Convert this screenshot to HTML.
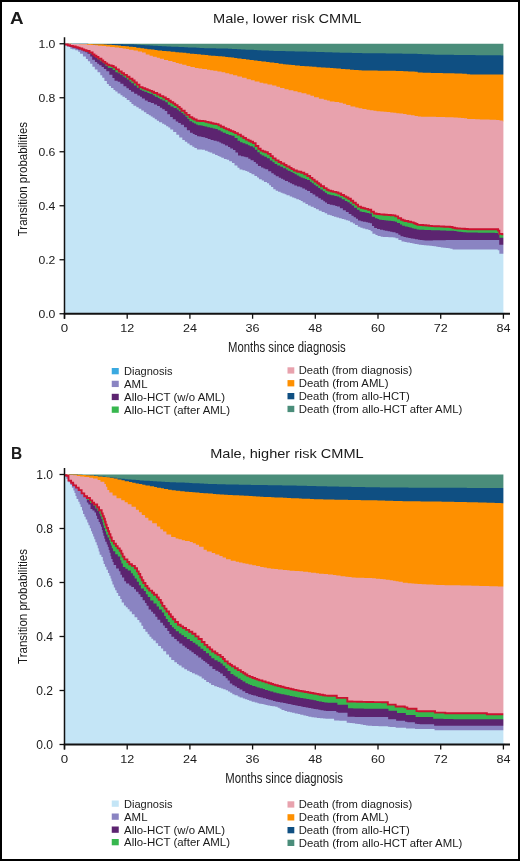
<!DOCTYPE html>
<html><head><meta charset="utf-8"><style>
html,body{margin:0;padding:0;background:#fff;}
body{width:520px;height:861px;overflow:hidden;}
svg{display:block;will-change:transform;}
text{font-family:"Liberation Sans",sans-serif;fill:#1a1a1a;}
</style></head><body>
<svg width="520" height="861" viewBox="0 0 520 861">
<rect x="1" y="1" width="518" height="859" fill="#fff" stroke="#000" stroke-width="2"/>
<text x="10.00" y="23.80" style="font-size:17.20px;font-weight:bold;" textLength="13.60" lengthAdjust="spacingAndGlyphs">A</text>
<text x="213.00" y="23.20" style="font-size:13.00px;" textLength="148.50" lengthAdjust="spacingAndGlyphs">Male, lower risk CMML</text>
<rect x="64.50" y="43.75" width="440.40" height="270.00" fill="#4a8d7a"/>
<path d="M64.50,313.75 L64.50,43.75 L64.50,43.75 L67.58,43.75 L67.58,43.78 L71.35,43.78 L71.35,43.80 L75.84,43.80 L75.84,43.82 L80.17,43.82 L80.17,43.85 L84.57,43.85 L84.57,43.87 L88.30,43.87 L88.30,43.89 L92.85,43.89 L92.85,43.92 L96.79,43.92 L96.79,43.94 L99.72,43.94 L99.72,43.95 L103.50,43.95 L103.50,43.97 L106.36,43.97 L106.36,43.99 L111.21,43.99 L111.21,44.03 L116.09,44.03 L116.09,44.07 L119.59,44.07 L119.59,44.10 L123.04,44.10 L123.04,44.13 L127.52,44.13 L127.52,44.17 L130.73,44.17 L130.73,44.19 L133.88,44.19 L133.88,44.39 L137.05,44.39 L137.05,44.64 L140.58,44.64 L140.58,44.94 L144.74,44.94 L144.74,45.29 L149.66,45.29 L149.66,45.56 L152.88,45.56 L152.88,45.77 L157.78,45.77 L157.78,45.99 L161.78,45.99 L161.78,46.21 L166.56,46.21 L166.56,46.44 L171.15,46.44 L171.15,46.64 L174.26,46.64 L174.26,46.82 L178.47,46.82 L178.47,47.00 L181.50,47.00 L181.50,47.12 L184.26,47.12 L184.26,47.26 L187.90,47.26 L187.90,47.44 L192.39,47.44 L192.39,47.62 L196.42,47.62 L196.42,47.78 L199.60,47.78 L199.60,47.95 L204.24,47.95 L204.24,48.15 L209.05,48.15 L209.05,48.31 L212.33,48.31 L212.33,48.35 L216.09,48.35 L216.09,48.40 L220.28,48.40 L220.28,48.46 L225.06,48.46 L225.06,48.53 L228.09,48.53 L228.09,48.71 L232.09,48.71 L232.09,48.95 L237.02,48.95 L237.02,49.18 L241.14,49.18 L241.14,49.40 L245.50,49.40 L245.50,49.63 L250.00,49.63 L250.00,49.84 L253.89,49.84 L253.89,50.02 L257.29,50.02 L257.29,50.19 L261.37,50.19 L261.37,50.39 L265.31,50.39 L265.31,50.56 L268.83,50.56 L268.83,50.76 L273.50,50.76 L273.50,50.88 L277.07,50.88 L277.07,50.97 L280.91,50.97 L280.91,51.08 L285.37,51.08 L285.37,51.19 L289.95,51.19 L289.95,51.31 L294.70,51.31 L294.70,51.42 L298.92,51.42 L298.92,51.52 L302.24,51.52 L302.24,51.62 L306.89,51.62 L306.89,51.74 L311.69,51.74 L311.69,51.86 L316.05,51.86 L316.05,51.98 L320.52,51.98 L320.52,52.11 L324.43,52.11 L324.43,52.22 L328.29,52.22 L328.29,52.34 L332.35,52.34 L332.35,52.45 L335.43,52.45 L335.43,52.57 L339.70,52.57 L339.70,52.70 L344.39,52.70 L344.39,52.79 L347.51,52.79 L347.51,52.87 L351.96,52.87 L351.96,52.96 L356.30,52.96 L356.30,53.04 L359.32,53.04 L359.32,53.11 L362.18,53.11 L362.18,53.18 L366.27,53.18 L366.27,53.23 L369.52,53.23 L369.52,53.25 L372.96,53.25 L372.96,53.29 L377.11,53.29 L377.11,53.32 L381.33,53.32 L381.33,53.36 L385.76,53.36 L385.76,53.40 L389.79,53.40 L389.79,53.45 L393.29,53.45 L393.29,53.50 L396.07,53.50 L396.07,53.54 L399.07,53.54 L399.07,53.58 L402.26,53.58 L402.26,53.63 L406.19,53.63 L406.19,53.69 L410.56,53.69 L410.56,53.75 L413.78,53.75 L413.78,53.79 L417.41,53.79 L417.41,53.97 L422.26,53.97 L422.26,54.16 L425.92,54.16 L425.92,54.34 L430.27,54.34 L430.27,54.53 L434.41,54.53 L434.41,54.63 L438.65,54.63 L438.65,54.69 L442.47,54.69 L442.47,54.74 L446.45,54.74 L446.45,54.79 L450.77,54.79 L450.77,54.84 L453.89,54.84 L453.89,54.90 L458.43,54.90 L458.43,54.96 L463.15,54.96 L463.15,55.01 L466.00,55.01 L466.00,55.04 L469.20,55.04 L469.20,55.07 L472.51,55.07 L472.51,55.10 L475.47,55.10 L475.47,55.13 L478.54,55.13 L478.54,55.17 L482.73,55.17 L482.73,55.21 L485.76,55.21 L485.76,55.24 L488.66,55.24 L488.66,55.28 L493.53,55.28 L493.53,55.32 L497.19,55.32 L497.19,55.36 L501.15,55.36 L501.15,55.39 L503.40,55.39 L504.90,55.39 L504.90,313.75 Z" fill="#0f4f82"/>
<path d="M64.50,313.75 L64.50,43.75 L64.50,43.75 L68.56,43.75 L68.56,43.82 L71.75,43.82 L71.75,43.88 L76.67,43.88 L76.67,43.94 L81.50,43.94 L81.50,44.00 L85.30,44.00 L85.30,44.05 L89.54,44.05 L89.54,44.10 L92.77,44.10 L92.77,44.14 L96.02,44.14 L96.02,44.19 L99.42,44.19 L99.42,44.37 L103.73,44.37 L103.73,44.59 L106.96,44.59 L106.96,44.82 L111.89,44.82 L111.89,45.05 L114.80,45.05 L114.80,45.24 L117.99,45.24 L117.99,45.54 L120.94,45.54 L120.94,45.91 L125.42,45.91 L125.42,46.31 L128.99,46.31 L128.99,46.67 L132.80,46.67 L132.80,47.09 L136.29,47.09 L136.29,47.64 L140.47,47.64 L140.47,48.20 L144.13,48.20 L144.13,48.69 L147.35,48.69 L147.35,49.19 L151.07,49.19 L151.07,49.62 L154.50,49.62 L154.50,49.98 L157.50,49.98 L157.50,50.41 L162.10,50.41 L162.10,50.91 L166.38,50.91 L166.38,51.33 L170.63,51.33 L170.63,51.75 L175.36,51.75 L175.36,52.14 L179.00,52.14 L179.00,52.48 L182.61,52.48 L182.61,52.87 L186.31,52.87 L186.31,53.25 L189.97,53.25 L189.97,53.66 L194.22,53.66 L194.22,54.03 L196.99,54.03 L196.99,54.37 L200.78,54.37 L200.78,54.77 L204.74,54.77 L204.74,55.10 L208.26,55.10 L208.26,55.38 L211.06,55.38 L211.06,55.69 L215.40,55.69 L215.40,56.00 L218.17,56.00 L218.17,56.29 L222.19,56.29 L222.19,56.60 L225.28,56.60 L225.28,56.88 L228.11,56.88 L228.11,57.25 L231.27,57.25 L231.27,57.62 L234.17,57.62 L234.17,57.98 L237.26,57.98 L237.26,58.43 L241.55,58.43 L241.55,58.96 L245.94,58.96 L245.94,59.44 L249.50,59.44 L249.50,59.92 L253.72,59.92 L253.72,60.41 L257.54,60.41 L257.54,60.88 L261.41,60.88 L261.41,61.40 L266.13,61.40 L266.13,61.90 L269.58,61.90 L269.58,62.39 L274.29,62.39 L274.29,63.08 L278.59,63.08 L278.59,63.73 L282.88,63.73 L282.88,64.25 L285.64,64.25 L285.64,64.53 L288.58,64.53 L288.58,64.81 L291.41,64.81 L291.41,65.12 L294.93,65.12 L294.93,65.51 L299.81,65.51 L299.81,65.88 L304.53,65.88 L304.53,66.25 L309.17,66.25 L309.17,66.55 L312.19,66.55 L312.19,66.84 L316.52,66.84 L316.52,67.18 L321.02,67.18 L321.02,67.50 L325.59,67.50 L325.59,67.82 L330.12,67.82 L330.12,68.08 L333.19,68.08 L333.19,68.30 L336.34,68.30 L336.34,68.56 L340.87,68.56 L340.87,68.89 L345.28,68.89 L345.28,69.29 L350.04,69.29 L350.04,69.65 L353.80,69.65 L353.80,70.01 L358.55,70.01 L358.55,70.23 L361.61,70.23 L361.61,70.45 L366.51,70.45 L366.51,70.53 L371.25,70.53 L371.25,70.57 L374.76,70.57 L374.76,70.60 L377.67,70.60 L377.67,70.63 L381.65,70.63 L381.65,70.66 L385.95,70.66 L385.95,70.70 L389.49,70.70 L389.49,70.78 L392.37,70.78 L392.37,70.86 L395.75,70.86 L395.75,70.97 L400.35,70.97 L400.35,71.07 L403.30,71.07 L403.30,71.17 L408.16,71.17 L408.16,71.40 L411.48,71.40 L411.48,71.61 L414.69,71.61 L414.69,71.84 L417.69,71.84 L417.69,72.60 L422.65,72.60 L422.65,72.71 L427.42,72.71 L427.42,72.81 L430.89,72.81 L430.89,72.88 L433.86,72.88 L433.86,72.96 L438.08,72.96 L438.08,73.06 L442.82,73.06 L442.82,73.15 L445.60,73.15 L445.60,73.23 L449.78,73.23 L449.78,73.33 L454.45,73.33 L454.45,73.43 L458.24,73.43 L458.24,73.51 L462.27,73.51 L462.27,73.67 L466.83,73.67 L466.83,74.20 L470.11,74.20 L470.11,74.40 L473.48,74.40 L473.48,74.40 L477.71,74.40 L477.71,74.40 L481.71,74.40 L481.71,74.40 L485.66,74.40 L485.66,74.40 L489.16,74.40 L489.16,74.40 L494.02,74.40 L494.02,74.40 L497.42,74.40 L497.42,74.40 L501.70,74.40 L501.70,74.40 L503.40,74.40 L504.90,74.40 L504.90,313.75 Z" fill="#fe9000"/>
<path d="M64.50,313.75 L64.50,43.75 L64.50,43.75 L67.58,43.75 L67.58,43.89 L71.72,43.89 L71.72,43.99 L74.85,43.99 L74.85,44.09 L79.20,44.09 L79.20,44.20 L83.32,44.20 L83.32,44.33 L86.94,44.33 L86.94,44.67 L91.08,44.67 L91.08,45.02 L95.10,45.02 L95.10,45.32 L97.95,45.32 L97.95,45.64 L101.89,45.64 L101.89,46.05 L106.03,46.05 L106.03,46.47 L109.95,46.47 L109.95,46.92 L114.68,46.92 L114.68,47.44 L119.09,47.44 L119.09,48.07 L122.69,48.07 L122.69,48.61 L125.95,48.61 L125.95,49.10 L128.98,49.10 L128.98,49.70 L133.56,49.70 L133.56,50.60 L137.86,50.60 L137.86,51.62 L141.98,51.62 L141.98,52.62 L145.72,52.62 L145.72,54.40 L149.60,54.40 L149.60,55.84 L152.85,55.84 L152.85,56.82 L156.79,56.82 L156.79,57.78 L159.87,57.78 L159.87,58.76 L164.02,58.76 L164.02,59.90 L168.19,59.90 L168.19,61.05 L172.44,61.05 L172.44,62.09 L175.75,62.09 L175.75,62.94 L178.71,62.94 L178.71,63.82 L182.21,63.82 L182.21,64.86 L186.50,64.86 L186.50,65.95 L190.40,65.95 L190.40,67.06 L194.83,67.06 L194.83,67.93 L198.55,67.93 L198.55,68.44 L202.20,68.44 L202.20,69.06 L206.99,69.06 L206.99,69.71 L210.12,69.71 L210.12,70.23 L213.33,70.23 L213.33,70.84 L217.41,70.84 L217.41,71.60 L221.58,71.60 L221.58,72.33 L225.30,72.33 L225.30,73.13 L229.31,73.13 L229.31,74.13 L233.05,74.13 L233.05,75.15 L237.30,75.15 L237.30,76.40 L242.05,76.40 L242.05,77.80 L246.66,77.80 L246.66,79.13 L250.85,79.13 L250.85,80.31 L254.66,80.31 L254.66,81.60 L259.54,81.60 L259.54,82.82 L263.29,82.82 L263.29,83.61 L267.45,83.61 L267.45,84.50 L272.16,84.50 L272.16,85.61 L276.44,85.61 L276.44,86.81 L280.07,86.81 L280.07,88.04 L284.49,88.04 L284.49,89.14 L288.59,89.14 L288.59,90.18 L293.40,90.18 L293.40,91.22 L297.56,91.22 L297.56,92.22 L301.51,92.22 L301.51,93.33 L306.45,93.33 L306.45,94.52 L310.38,94.52 L310.38,95.84 L314.03,95.84 L314.03,97.32 L318.89,97.32 L318.89,98.80 L323.77,98.80 L323.77,99.84 L326.90,99.84 L326.90,100.62 L329.82,100.62 L329.82,101.42 L334.50,101.42 L334.50,102.08 L339.23,102.08 L339.23,102.67 L342.85,102.67 L342.85,103.68 L346.17,103.68 L346.17,105.01 L350.46,105.01 L350.46,106.62 L355.33,106.62 L355.33,107.56 L358.56,107.56 L358.56,108.27 L362.31,108.27 L362.31,109.08 L366.55,109.08 L366.55,109.71 L369.80,109.71 L369.80,110.27 L373.48,110.27 L373.48,110.81 L376.56,110.81 L376.56,111.23 L380.39,111.23 L380.39,111.51 L383.65,111.51 L383.65,111.75 L386.58,111.75 L386.58,112.01 L390.21,112.01 L390.21,112.42 L393.30,112.42 L393.30,112.79 L396.31,112.79 L396.31,113.16 L399.40,113.16 L399.40,113.60 L403.09,113.60 L403.09,114.09 L406.56,114.09 L406.56,114.63 L410.95,114.63 L410.95,115.26 L414.63,115.26 L414.63,115.91 L417.93,115.91 L417.93,116.51 L421.10,116.51 L421.10,116.65 L424.52,116.65 L424.52,116.71 L428.94,116.71 L428.94,116.78 L432.14,116.78 L432.14,116.83 L435.94,116.83 L435.94,116.90 L440.51,116.90 L440.51,116.98 L445.12,116.98 L445.12,117.15 L448.91,117.15 L448.91,117.36 L453.56,117.36 L453.56,117.58 L457.75,117.58 L457.75,117.77 L461.02,117.77 L461.02,117.92 L463.97,117.92 L463.97,118.26 L467.11,118.26 L467.11,118.90 L471.63,118.90 L471.63,119.11 L475.26,119.11 L475.26,119.25 L479.90,119.25 L479.90,119.41 L484.82,119.41 L484.82,119.57 L489.64,119.57 L489.64,119.72 L493.45,119.72 L493.45,119.83 L496.21,119.83 L496.21,119.93 L499.59,119.93 L499.59,120.57 L502.83,120.57 L502.83,121.47 L503.40,121.47 L504.90,121.47 L504.90,313.75 Z" fill="#e8a2ad"/>
<path d="M64.50,313.75 L64.50,44.50 L64.50,44.50 L67.67,44.50 L67.67,45.19 L70.09,45.19 L70.09,45.87 L72.88,45.87 L72.88,46.54 L75.70,46.54 L75.70,47.18 L77.77,47.18 L77.77,47.77 L79.64,47.77 L79.64,48.49 L82.27,48.49 L82.27,49.43 L84.21,49.43 L84.21,50.27 L86.52,50.27 L86.52,51.03 L89.56,51.03 L89.56,52.54 L92.57,52.54 L92.57,54.42 L94.50,54.42 L94.50,55.72 L96.38,55.72 L96.38,56.97 L98.46,56.97 L98.46,58.67 L101.42,58.67 L101.42,60.42 L103.21,60.42 L103.21,61.86 L105.30,61.86 L105.30,63.35 L107.21,63.35 L107.21,64.79 L109.15,64.79 L109.15,65.38 L111.67,65.38 L111.67,65.97 L113.69,65.97 L113.69,67.41 L116.04,67.41 L116.04,69.41 L118.86,69.41 L118.86,71.57 L121.66,71.57 L121.66,73.22 L124.02,73.22 L124.02,74.91 L126.91,74.91 L126.91,76.75 L129.49,76.75 L129.49,78.72 L132.44,78.72 L132.44,80.52 L134.56,80.52 L134.56,82.43 L136.85,82.43 L136.85,84.63 L139.45,84.63 L139.45,87.14 L142.57,87.14 L142.57,88.30 L145.22,88.30 L145.22,89.32 L147.66,89.32 L147.66,90.17 L149.79,90.17 L149.79,90.86 L151.95,90.86 L151.95,91.74 L154.02,91.74 L154.02,93.03 L157.20,93.03 L157.20,94.56 L160.24,94.56 L160.24,96.08 L163.29,96.08 L163.29,97.47 L165.81,97.47 L165.81,99.03 L168.59,99.03 L168.59,100.69 L170.77,100.69 L170.77,102.22 L173.23,102.22 L173.23,103.67 L175.20,103.67 L175.20,105.09 L177.56,105.09 L177.56,106.89 L179.69,106.89 L179.69,108.61 L181.59,108.61 L181.59,110.74 L184.67,110.74 L184.67,112.85 L186.57,112.85 L186.57,114.89 L189.50,114.89 L189.50,117.29 L192.27,117.29 L192.27,118.46 L194.16,118.46 L194.16,119.55 L196.62,119.55 L196.62,120.82 L199.81,120.82 L199.81,120.97 L203.00,120.97 L203.00,121.17 L205.57,121.17 L205.57,121.85 L208.44,121.85 L208.44,122.56 L211.22,122.56 L211.22,123.18 L213.40,123.18 L213.40,123.69 L215.95,123.69 L215.95,124.13 L218.57,124.13 L218.57,125.40 L220.90,125.40 L220.90,126.75 L223.84,126.75 L223.84,128.12 L226.24,128.12 L226.24,129.30 L229.08,129.30 L229.08,130.28 L230.93,130.28 L230.93,131.09 L233.33,131.09 L233.33,131.93 L235.15,131.93 L235.15,133.13 L237.85,133.13 L237.85,134.66 L240.86,134.66 L240.86,136.37 L243.40,136.37 L243.40,138.02 L245.98,138.02 L245.98,139.64 L248.63,139.64 L248.63,140.70 L250.72,140.70 L250.72,141.69 L253.04,141.69 L253.04,143.08 L255.63,143.08 L255.63,145.99 L258.32,145.99 L258.32,148.74 L260.63,148.74 L260.63,150.63 L263.08,150.63 L263.08,151.43 L265.32,151.43 L265.32,152.25 L267.87,152.25 L267.87,153.90 L270.61,153.90 L270.61,156.13 L272.84,156.13 L272.84,158.36 L275.59,158.36 L275.59,160.42 L278.57,160.42 L278.57,161.96 L281.10,161.96 L281.10,163.54 L284.27,163.54 L284.27,165.04 L286.48,165.04 L286.48,166.51 L289.56,166.51 L289.56,167.92 L291.58,167.92 L291.58,169.10 L293.87,169.10 L293.87,170.55 L296.80,170.55 L296.80,171.44 L298.61,171.44 L298.61,171.75 L301.26,171.75 L301.26,172.76 L304.27,172.76 L304.27,174.24 L307.39,174.24 L307.39,175.95 L310.13,175.95 L310.13,177.90 L312.39,177.90 L312.39,179.65 L314.63,179.65 L314.63,181.57 L317.30,181.57 L317.30,183.29 L319.15,183.29 L319.15,184.54 L320.95,184.54 L320.95,186.18 L323.98,186.18 L323.98,188.13 L326.65,188.13 L326.65,189.72 L328.64,189.72 L328.64,190.64 L331.02,190.64 L331.02,191.23 L333.19,191.23 L333.19,191.89 L336.21,191.89 L336.21,192.56 L338.38,192.56 L338.38,193.43 L341.18,193.43 L341.18,194.97 L344.01,194.97 L344.01,196.35 L346.23,196.35 L346.23,197.54 L348.35,197.54 L348.35,198.81 L350.86,198.81 L350.86,200.73 L353.20,200.73 L353.20,202.69 L355.82,202.69 L355.82,204.61 L358.05,204.61 L358.05,206.65 L360.95,206.65 L360.95,207.71 L363.32,207.71 L363.32,208.28 L365.27,208.28 L365.27,208.92 L368.15,208.92 L368.15,209.70 L371.20,209.70 L371.20,211.77 L373.94,211.77 L373.94,213.54 L376.49,213.54 L376.49,213.93 L379.50,213.93 L379.50,214.34 L382.61,214.34 L382.61,214.53 L384.38,214.53 L384.38,214.71 L386.84,214.71 L386.84,214.88 L388.63,214.88 L388.63,215.04 L390.87,215.04 L390.87,215.22 L392.98,215.22 L392.98,215.40 L395.40,215.40 L395.40,216.37 L398.14,216.37 L398.14,218.19 L401.14,218.19 L401.14,219.82 L403.27,219.82 L403.27,220.50 L405.05,220.50 L405.05,221.05 L408.25,221.05 L408.25,221.72 L411.13,221.72 L411.13,222.34 L413.69,222.34 L413.69,223.22 L415.61,223.22 L415.61,223.95 L417.44,223.95 L417.44,224.83 L420.55,224.83 L420.55,225.07 L423.07,225.07 L423.07,225.32 L426.07,225.32 L426.07,225.57 L428.96,225.57 L428.96,225.83 L431.80,225.83 L431.80,226.08 L434.72,226.08 L434.72,226.21 L436.84,226.21 L436.84,226.31 L438.96,226.31 L438.96,226.42 L441.34,226.42 L441.34,226.54 L444.21,226.54 L444.21,226.68 L447.11,226.68 L447.11,226.81 L449.96,226.81 L449.96,226.94 L452.56,226.94 L452.56,227.73 L455.00,227.73 L455.00,228.30 L457.04,228.30 L457.04,228.46 L459.76,228.46 L459.76,228.64 L462.46,228.64 L462.46,228.82 L464.97,228.82 L464.97,229.00 L467.77,229.00 L467.77,229.20 L470.94,229.20 L470.94,229.21 L474.06,229.21 L474.06,229.22 L475.98,229.22 L475.98,229.23 L478.15,229.23 L478.15,229.23 L480.79,229.23 L480.79,229.24 L483.55,229.24 L483.55,229.25 L485.71,229.25 L485.71,229.26 L488.82,229.26 L488.82,229.27 L491.24,229.27 L491.24,229.28 L494.10,229.28 L494.10,229.29 L495.94,229.29 L495.94,229.30 L498.10,229.30 L498.10,230.58 L499.35,230.58 L499.35,233.84 L502.25,233.84 L502.25,234.20 L503.40,234.20 L504.90,234.20 L504.90,313.75 Z" fill="#37b74e"/>
<path d="M64.50,313.75 L64.50,44.60 L64.50,44.60 L67.64,44.60 L67.64,45.47 L70.66,45.47 L70.66,46.28 L73.47,46.28 L73.47,47.08 L75.56,47.08 L75.56,47.78 L77.80,47.78 L77.80,48.58 L80.58,48.58 L80.58,49.67 L83.51,49.67 L83.51,50.69 L85.29,50.69 L85.29,51.44 L87.29,51.44 L87.29,52.37 L90.34,52.37 L90.34,53.71 L92.27,53.71 L92.27,55.17 L94.97,55.17 L94.97,57.16 L97.21,57.16 L97.21,59.30 L99.90,59.30 L99.90,61.17 L102.90,61.17 L102.90,63.27 L105.50,63.27 L105.50,65.99 L107.82,65.99 L107.82,67.80 L110.04,67.80 L110.04,68.11 L112.70,68.11 L112.70,70.09 L115.36,70.09 L115.36,72.21 L117.71,72.21 L117.71,73.31 L120.14,73.31 L120.14,74.79 L122.68,74.79 L122.68,76.42 L124.81,76.42 L124.81,77.87 L126.83,77.87 L126.83,79.61 L129.41,79.61 L129.41,81.43 L131.31,81.43 L131.31,83.26 L133.93,83.26 L133.93,85.49 L136.85,85.49 L136.85,87.84 L139.80,87.84 L139.80,89.87 L141.92,89.87 L141.92,90.78 L144.28,90.78 L144.28,91.87 L147.37,91.87 L147.37,92.90 L149.63,92.90 L149.63,93.78 L152.82,93.78 L152.82,95.16 L154.87,95.16 L154.87,96.65 L157.84,96.65 L157.84,98.07 L159.66,98.07 L159.66,99.18 L162.38,99.18 L162.38,100.55 L165.30,100.55 L165.30,102.24 L167.85,102.24 L167.85,104.72 L170.52,104.72 L170.52,106.50 L173.59,106.50 L173.59,108.02 L176.79,108.02 L176.79,109.51 L178.81,109.51 L178.81,111.25 L181.32,111.25 L181.32,112.92 L183.14,112.92 L183.14,114.61 L185.44,114.61 L185.44,116.84 L187.41,116.84 L187.41,118.90 L189.40,118.90 L189.40,121.33 L192.06,121.33 L192.06,122.55 L193.94,122.55 L193.94,123.52 L195.93,123.52 L195.93,124.46 L197.70,124.46 L197.70,125.21 L200.63,125.21 L200.63,125.62 L202.74,125.62 L202.74,125.95 L204.61,125.95 L204.61,126.48 L207.26,126.48 L207.26,127.16 L210.05,127.16 L210.05,127.85 L212.72,127.85 L212.72,128.50 L215.27,128.50 L215.27,129.09 L217.80,129.09 L217.80,130.24 L220.60,130.24 L220.60,131.43 L222.80,131.43 L222.80,132.66 L225.78,132.66 L225.78,133.92 L228.54,133.92 L228.54,134.97 L231.53,134.97 L231.53,135.75 L234.57,135.75 L234.57,138.02 L237.54,138.02 L237.54,140.72 L240.05,140.72 L240.05,142.37 L242.56,142.37 L242.56,143.32 L245.38,143.32 L245.38,144.28 L247.97,144.28 L247.97,145.24 L249.77,145.24 L249.77,146.34 L252.85,146.34 L252.85,147.49 L254.90,147.49 L254.90,149.73 L257.36,149.73 L257.36,152.16 L259.77,152.16 L259.77,154.32 L261.66,154.32 L261.66,155.53 L264.26,155.53 L264.26,156.83 L266.87,156.83 L266.87,158.33 L269.80,158.33 L269.80,160.42 L272.44,160.42 L272.44,162.25 L274.64,162.25 L274.64,163.96 L277.21,163.96 L277.21,165.39 L280.35,165.39 L280.35,166.85 L283.03,166.85 L283.03,168.26 L286.01,168.26 L286.01,169.48 L287.78,169.48 L287.78,170.71 L290.54,170.71 L290.54,172.01 L292.60,172.01 L292.60,173.12 L294.59,173.12 L294.59,174.26 L296.83,174.26 L296.83,175.46 L298.85,175.46 L298.85,176.60 L300.73,176.60 L300.73,177.56 L302.79,177.56 L302.79,178.26 L304.89,178.26 L304.89,178.97 L307.01,178.97 L307.01,180.09 L309.92,180.09 L309.92,181.86 L311.80,181.86 L311.80,183.31 L313.84,183.31 L313.84,184.75 L315.68,184.75 L315.68,186.35 L318.17,186.35 L318.17,187.99 L320.26,187.99 L320.26,189.61 L322.79,189.61 L322.79,191.23 L324.89,191.23 L324.89,192.68 L326.93,192.68 L326.93,194.26 L329.39,194.26 L329.39,194.87 L331.26,194.87 L331.26,195.35 L334.29,195.35 L334.29,195.92 L336.86,195.92 L336.86,196.41 L339.19,196.41 L339.19,197.49 L341.74,197.49 L341.74,199.20 L344.87,199.20 L344.87,200.89 L347.34,200.89 L347.34,202.34 L349.67,202.34 L349.67,203.87 L351.74,203.87 L351.74,205.61 L354.05,205.61 L354.05,207.66 L356.92,207.66 L356.92,209.85 L359.56,209.85 L359.56,211.49 L361.72,211.49 L361.72,212.03 L364.77,212.03 L364.77,212.55 L366.73,212.55 L366.73,212.99 L369.00,212.99 L369.00,213.52 L371.88,213.52 L371.88,216.75 L374.95,216.75 L374.95,218.34 L377.37,218.34 L377.37,219.03 L379.15,219.03 L379.15,219.75 L381.72,219.75 L381.72,220.03 L384.09,220.03 L384.09,220.25 L385.90,220.25 L385.90,220.45 L388.16,220.45 L388.16,220.72 L391.19,220.72 L391.19,220.97 L393.00,220.97 L393.00,221.16 L395.02,221.16 L395.02,221.65 L397.02,221.65 L397.02,223.04 L399.93,223.04 L399.93,224.49 L402.13,224.49 L402.13,225.69 L404.88,225.69 L404.88,226.41 L407.61,226.41 L407.61,227.00 L409.39,227.00 L409.39,227.56 L411.78,227.56 L411.78,228.13 L413.71,228.13 L413.71,228.77 L416.62,228.77 L416.62,229.48 L419.08,229.48 L419.08,229.75 L421.37,229.75 L421.37,229.83 L424.30,229.83 L424.30,229.93 L427.25,229.93 L427.25,230.01 L429.11,230.01 L429.11,230.07 L431.00,230.07 L431.00,230.14 L433.23,230.14 L433.23,230.21 L435.44,230.21 L435.44,230.28 L437.83,230.28 L437.83,230.36 L440.21,230.36 L440.21,230.45 L443.37,230.45 L443.37,230.55 L446.10,230.55 L446.10,230.64 L449.24,230.64 L449.24,230.74 L451.89,230.74 L451.89,230.85 L453.99,230.85 L453.99,231.12 L456.56,231.12 L456.56,231.38 L458.56,231.38 L458.56,231.64 L461.16,231.64 L461.16,231.90 L463.12,231.90 L463.12,232.19 L466.22,232.19 L466.22,232.49 L468.42,232.49 L468.42,232.53 L471.47,232.53 L471.47,232.57 L473.54,232.57 L473.54,232.59 L475.60,232.59 L475.60,232.62 L477.72,232.62 L477.72,232.65 L480.66,232.65 L480.66,232.69 L483.62,232.69 L483.62,232.73 L486.45,232.73 L486.45,232.76 L489.04,232.76 L489.04,232.79 L491.01,232.79 L491.01,232.82 L493.11,232.82 L493.11,232.85 L494.92,232.85 L494.92,232.88 L498.02,232.88 L498.02,234.23 L499.38,234.23 L499.38,237.70 L502.17,237.70 L502.17,237.70 L503.40,237.70 L504.90,237.70 L504.90,313.75 Z" fill="#5c2470"/>
<path d="M64.50,313.75 L64.50,43.75 L64.50,43.75 L67.52,43.75 L67.52,45.96 L69.79,45.96 L69.79,46.91 L72.69,46.91 L72.69,47.63 L75.82,47.63 L75.82,48.43 L78.03,48.43 L78.03,49.40 L80.89,49.40 L80.89,50.36 L83.13,50.36 L83.13,51.14 L85.13,51.14 L85.13,52.23 L87.39,52.23 L87.39,53.84 L90.23,53.84 L90.23,56.51 L92.21,56.51 L92.21,59.77 L94.92,59.77 L94.92,62.09 L97.18,62.09 L97.18,63.67 L99.18,63.67 L99.18,65.32 L101.56,65.32 L101.56,67.11 L103.88,67.11 L103.88,69.05 L106.30,69.05 L106.30,71.37 L109.33,71.37 L109.33,74.72 L112.42,74.72 L112.42,77.89 L114.50,77.89 L114.50,80.64 L117.69,80.64 L117.69,81.80 L120.33,81.80 L120.33,83.72 L123.47,83.72 L123.47,86.15 L126.41,86.15 L126.41,88.27 L128.92,88.27 L128.92,89.92 L131.04,89.92 L131.04,91.77 L134.14,91.77 L134.14,93.78 L137.34,93.78 L137.34,95.49 L140.00,95.49 L140.00,96.85 L141.93,96.85 L141.93,98.55 L144.87,98.55 L144.87,100.58 L147.74,100.58 L147.74,102.04 L150.76,102.04 L150.76,102.93 L153.93,102.93 L153.93,104.53 L157.09,104.53 L157.09,106.05 L159.91,106.05 L159.91,107.70 L162.24,107.70 L162.24,109.29 L164.77,109.29 L164.77,111.05 L167.25,111.05 L167.25,114.30 L170.11,114.30 L170.11,117.05 L172.77,117.05 L172.77,119.30 L175.72,119.30 L175.72,121.48 L178.22,121.48 L178.22,123.04 L180.83,123.04 L180.83,124.79 L183.98,124.79 L183.98,127.21 L186.88,127.21 L186.88,130.16 L189.98,130.16 L189.98,132.83 L192.75,132.83 L192.75,134.01 L194.69,134.01 L194.69,135.08 L197.05,135.08 L197.05,136.14 L199.23,136.14 L199.23,136.53 L201.37,136.53 L201.37,136.90 L203.31,136.90 L203.31,137.29 L205.23,137.29 L205.23,138.06 L207.68,138.06 L207.68,138.99 L210.57,138.99 L210.57,140.03 L213.58,140.03 L213.58,140.82 L216.73,140.82 L216.73,141.49 L219.33,141.49 L219.33,142.53 L221.11,142.53 L221.11,143.43 L223.14,143.43 L223.14,144.36 L224.99,144.36 L224.99,145.58 L228.00,145.58 L228.00,146.96 L230.22,146.96 L230.22,148.42 L233.02,148.42 L233.02,150.03 L235.43,150.03 L235.43,152.57 L238.03,152.57 L238.03,155.41 L241.02,155.41 L241.02,156.37 L243.72,156.37 L243.72,156.83 L245.59,156.83 L245.59,157.29 L248.26,157.29 L248.26,158.73 L250.54,158.73 L250.54,160.34 L253.70,160.34 L253.70,162.10 L255.85,162.10 L255.85,163.80 L257.96,163.80 L257.96,165.88 L261.04,165.88 L261.04,167.53 L263.40,167.53 L263.40,168.38 L265.28,168.38 L265.28,169.33 L268.19,169.33 L268.19,171.15 L271.27,171.15 L271.27,173.21 L273.74,173.21 L273.74,174.86 L275.74,174.86 L275.74,176.32 L278.75,176.32 L278.75,177.64 L281.00,177.64 L281.00,178.73 L283.11,178.73 L283.11,179.71 L284.93,179.71 L284.93,180.92 L287.96,180.92 L287.96,182.19 L290.06,182.19 L290.06,183.19 L291.99,183.19 L291.99,184.23 L294.28,184.23 L294.28,185.49 L297.05,185.49 L297.05,186.45 L300.24,186.45 L300.24,187.14 L302.31,187.14 L302.31,188.39 L304.95,188.39 L304.95,189.66 L307.10,189.66 L307.10,191.12 L310.10,191.12 L310.10,192.89 L312.57,192.89 L312.57,194.57 L315.31,194.57 L315.31,196.42 L318.28,196.42 L318.28,198.20 L320.81,198.20 L320.81,199.81 L323.25,199.81 L323.25,201.17 L325.02,201.17 L325.02,202.39 L327.02,202.39 L327.02,203.93 L329.78,203.93 L329.78,204.67 L332.63,204.67 L332.63,205.34 L335.22,205.34 L335.22,205.89 L337.05,205.89 L337.05,206.47 L339.89,206.47 L339.89,208.17 L342.87,208.17 L342.87,210.14 L345.86,210.14 L345.86,212.07 L348.71,212.07 L348.71,213.92 L351.42,213.92 L351.42,215.66 L353.68,215.66 L353.68,217.25 L355.96,217.25 L355.96,218.75 L358.00,218.75 L358.00,220.40 L360.68,220.40 L360.68,221.30 L362.93,221.30 L362.93,221.79 L365.86,221.79 L365.86,222.27 L367.95,222.27 L367.95,222.66 L370.09,222.66 L370.09,223.32 L371.98,223.32 L371.98,226.05 L374.14,226.05 L374.14,228.05 L377.02,228.05 L377.02,229.01 L379.97,229.01 L379.97,229.87 L383.05,229.87 L383.05,230.33 L384.86,230.33 L384.86,230.77 L387.60,230.77 L387.60,231.27 L390.17,231.27 L390.17,231.73 L392.44,231.73 L392.44,232.23 L395.55,232.23 L395.55,233.36 L398.29,233.36 L398.29,234.77 L400.51,234.77 L400.51,236.24 L403.46,236.24 L403.46,237.05 L405.86,237.05 L405.86,237.51 L408.30,237.51 L408.30,237.97 L410.74,237.97 L410.74,238.43 L413.19,238.43 L413.19,238.83 L414.98,238.83 L414.98,239.28 L417.93,239.28 L417.93,239.74 L420.12,239.74 L420.12,240.03 L422.53,240.03 L422.53,240.31 L424.54,240.31 L424.54,240.49 L427.12,240.49 L427.12,240.45 L428.98,240.45 L428.98,240.41 L430.79,240.41 L430.79,240.38 L432.85,240.38 L432.85,240.34 L435.87,240.34 L435.87,240.29 L438.62,240.29 L438.62,240.24 L441.42,240.24 L441.42,240.20 L443.31,240.20 L443.31,240.16 L445.72,240.16 L445.72,240.11 L448.54,240.11 L448.54,240.06 L451.37,240.06 L451.37,240.02 L453.78,240.02 L453.78,240.00 L455.65,240.00 L455.65,240.00 L457.96,240.00 L457.96,240.00 L461.08,240.00 L461.08,240.00 L464.12,240.00 L464.12,240.00 L466.77,240.00 L466.77,240.00 L469.04,240.00 L469.04,240.00 L471.66,240.00 L471.66,240.00 L474.25,240.00 L474.25,240.00 L476.68,240.00 L476.68,240.00 L479.66,240.00 L479.66,240.00 L482.23,240.00 L482.23,240.00 L484.13,240.00 L484.13,240.00 L486.95,240.00 L486.95,240.00 L489.71,240.00 L489.71,240.00 L491.62,240.00 L491.62,240.00 L494.14,240.00 L494.14,240.00 L497.30,240.00 L497.30,240.12 L499.19,240.12 L499.19,244.70 L501.92,244.70 L501.92,244.70 L503.40,244.70 L504.90,244.70 L504.90,313.75 Z" fill="#8a84c2"/>
<path d="M64.50,313.75 L64.50,43.75 L64.50,43.75 L67.28,43.75 L67.28,46.68 L70.34,46.68 L70.34,48.71 L72.13,48.71 L72.13,49.29 L75.24,49.29 L75.24,50.36 L78.18,50.36 L78.18,51.84 L80.03,51.84 L80.03,53.69 L82.95,53.69 L82.95,56.61 L85.87,56.61 L85.87,59.08 L87.90,59.08 L87.90,61.20 L90.11,61.20 L90.11,63.85 L92.39,63.85 L92.39,66.81 L94.80,66.81 L94.80,69.55 L97.50,69.55 L97.50,72.28 L100.26,72.28 L100.26,75.26 L102.24,75.26 L102.24,77.87 L104.40,77.87 L104.40,80.95 L106.86,80.95 L106.86,83.91 L108.82,83.91 L108.82,85.91 L110.97,85.91 L110.97,87.97 L113.44,87.97 L113.44,90.00 L115.30,90.00 L115.30,91.61 L117.57,91.61 L117.57,93.42 L120.50,93.42 L120.50,95.14 L122.52,95.14 L122.52,96.64 L124.90,96.64 L124.90,98.08 L126.72,98.08 L126.72,99.93 L129.54,99.93 L129.54,102.09 L131.44,102.09 L131.44,103.88 L133.46,103.88 L133.46,105.79 L136.30,105.79 L136.30,107.36 L138.69,107.36 L138.69,108.84 L141.25,108.84 L141.25,110.57 L143.89,110.57 L143.89,112.36 L146.36,112.36 L146.36,114.05 L148.73,114.05 L148.73,115.30 L150.72,115.30 L150.72,116.39 L152.68,116.39 L152.68,117.73 L154.73,117.73 L154.73,119.15 L156.85,119.15 L156.85,120.63 L159.07,120.63 L159.07,122.22 L162.11,122.22 L162.11,123.68 L164.18,123.68 L164.18,124.83 L166.13,124.83 L166.13,126.17 L168.28,126.17 L168.28,127.58 L170.23,127.58 L170.23,129.54 L173.18,129.54 L173.18,132.10 L176.31,132.10 L176.31,134.68 L179.18,134.68 L179.18,137.42 L182.31,137.42 L182.31,140.01 L184.86,140.01 L184.86,141.82 L187.27,141.82 L187.27,143.47 L189.59,143.47 L189.59,145.22 L192.29,145.22 L192.29,146.66 L194.39,146.66 L194.39,148.05 L196.91,148.05 L196.91,149.41 L199.23,149.41 L199.23,149.53 L201.95,149.53 L201.95,149.67 L204.96,149.67 L204.96,150.67 L207.67,150.67 L207.67,151.65 L209.63,151.65 L209.63,152.61 L212.25,152.61 L212.25,153.75 L215.06,153.75 L215.06,154.94 L217.59,154.94 L217.59,155.91 L219.45,155.91 L219.45,156.75 L221.34,156.75 L221.34,157.74 L223.88,157.74 L223.88,158.90 L226.67,158.90 L226.67,159.82 L229.15,159.82 L229.15,161.25 L231.96,161.25 L231.96,163.08 L234.51,163.08 L234.51,165.41 L237.45,165.41 L237.45,167.71 L239.52,167.71 L239.52,169.40 L242.48,169.40 L242.48,170.27 L245.32,170.27 L245.32,170.98 L247.24,170.98 L247.24,171.85 L249.33,171.85 L249.33,172.93 L251.51,172.93 L251.51,174.22 L254.40,174.22 L254.40,175.99 L257.08,175.99 L257.08,177.58 L258.94,177.58 L258.94,179.21 L261.76,179.21 L261.76,180.58 L263.96,180.58 L263.96,181.88 L266.96,181.88 L266.96,183.23 L269.12,183.23 L269.12,185.14 L271.03,185.14 L271.03,187.07 L273.27,187.07 L273.27,189.25 L275.69,189.25 L275.69,190.81 L278.07,190.81 L278.07,191.78 L280.60,191.78 L280.60,192.66 L282.52,192.66 L282.52,193.47 L284.67,193.47 L284.67,194.26 L286.49,194.26 L286.49,195.27 L289.67,195.27 L289.67,196.43 L292.14,196.43 L292.14,197.38 L294.31,197.38 L294.31,198.23 L296.31,198.23 L296.31,199.17 L298.94,199.17 L298.94,200.04 L300.71,200.04 L300.71,200.93 L302.70,200.93 L302.70,202.39 L305.42,202.39 L305.42,204.01 L307.94,204.01 L307.94,205.43 L310.72,205.43 L310.72,206.81 L313.70,206.81 L313.70,208.05 L315.92,208.05 L315.92,209.27 L318.78,209.27 L318.78,210.65 L321.70,210.65 L321.70,212.05 L324.65,212.05 L324.65,213.37 L327.18,213.37 L327.18,214.63 L330.04,214.63 L330.04,215.35 L331.85,215.35 L331.85,215.93 L333.89,215.93 L333.89,216.64 L336.48,216.64 L336.48,217.42 L339.04,217.42 L339.04,218.21 L341.68,218.21 L341.68,218.96 L344.04,218.96 L344.04,219.60 L345.87,219.60 L345.87,220.21 L348.09,220.21 L348.09,220.85 L350.14,220.85 L350.14,222.13 L352.86,222.13 L352.86,223.56 L354.96,223.56 L354.96,225.03 L357.81,225.03 L357.81,226.63 L360.34,226.63 L360.34,227.69 L362.66,227.69 L362.66,228.44 L365.31,228.44 L365.31,229.30 L368.35,229.30 L368.35,230.10 L370.59,230.10 L370.59,231.23 L372.43,231.23 L372.43,233.72 L375.43,233.72 L375.43,234.98 L377.60,234.98 L377.60,236.08 L380.65,236.08 L380.65,236.77 L383.09,236.77 L383.09,236.90 L385.44,236.90 L385.44,237.04 L388.41,237.04 L388.41,237.17 L390.34,237.17 L390.34,237.31 L393.34,237.31 L393.34,237.45 L395.50,237.45 L395.50,238.31 L398.38,238.31 L398.38,239.90 L401.52,239.90 L401.52,241.44 L404.48,241.44 L404.48,241.95 L406.73,241.95 L406.73,242.47 L409.88,242.47 L409.88,243.03 L412.40,243.03 L412.40,243.49 L414.59,243.49 L414.59,243.92 L416.88,243.92 L416.88,244.33 L418.76,244.33 L418.76,244.65 L421.43,244.65 L421.43,244.91 L423.83,244.91 L423.83,245.18 L426.40,245.18 L426.40,245.47 L429.43,245.47 L429.43,245.76 L431.84,245.76 L431.84,245.98 L433.64,245.98 L433.64,246.35 L436.26,246.35 L436.26,246.73 L438.15,246.73 L438.15,247.11 L440.77,247.11 L440.77,247.55 L443.31,247.55 L443.31,247.81 L445.72,247.81 L445.72,247.99 L448.43,247.99 L448.43,248.16 L450.31,248.16 L450.31,248.70 L452.59,248.70 L452.59,249.40 L454.65,249.40 L454.65,249.40 L456.72,249.40 L456.72,249.40 L458.65,249.40 L458.65,249.40 L460.73,249.40 L460.73,249.40 L463.72,249.40 L463.72,249.40 L466.89,249.40 L466.89,249.40 L469.53,249.40 L469.53,249.40 L472.41,249.40 L472.41,249.40 L474.19,249.40 L474.19,249.40 L476.44,249.40 L476.44,249.40 L479.24,249.40 L479.24,249.40 L482.31,249.40 L482.31,249.40 L484.14,249.40 L484.14,249.40 L487.33,249.40 L487.33,249.40 L490.49,249.40 L490.49,249.40 L492.38,249.40 L492.38,249.40 L494.72,249.40 L494.72,249.40 L497.79,249.40 L497.79,250.31 L499.37,250.31 L499.37,253.70 L501.37,253.70 L501.37,253.70 L503.40,253.70 L504.90,253.70 L504.90,313.75 Z" fill="#c4e5f6"/>
<path d="M64.50,44.50 L64.50,44.50 L67.67,44.50 L67.67,45.19 L70.09,45.19 L70.09,45.87 L72.88,45.87 L72.88,46.54 L75.70,46.54 L75.70,47.18 L77.77,47.18 L77.77,47.77 L79.64,47.77 L79.64,48.49 L82.27,48.49 L82.27,49.43 L84.21,49.43 L84.21,50.27 L86.52,50.27 L86.52,51.03 L89.56,51.03 L89.56,52.54 L92.57,52.54 L92.57,54.42 L94.50,54.42 L94.50,55.72 L96.38,55.72 L96.38,56.97 L98.46,56.97 L98.46,58.67 L101.42,58.67 L101.42,60.42 L103.21,60.42 L103.21,61.86 L105.30,61.86 L105.30,63.35 L107.21,63.35 L107.21,64.79 L109.15,64.79 L109.15,65.38 L111.67,65.38 L111.67,65.97 L113.69,65.97 L113.69,67.41 L116.04,67.41 L116.04,69.41 L118.86,69.41 L118.86,71.57 L121.66,71.57 L121.66,73.22 L124.02,73.22 L124.02,74.91 L126.91,74.91 L126.91,76.75 L129.49,76.75 L129.49,78.72 L132.44,78.72 L132.44,80.52 L134.56,80.52 L134.56,82.43 L136.85,82.43 L136.85,84.63 L139.45,84.63 L139.45,87.14 L142.57,87.14 L142.57,88.30 L145.22,88.30 L145.22,89.32 L147.66,89.32 L147.66,90.17 L149.79,90.17 L149.79,90.86 L151.95,90.86 L151.95,91.74 L154.02,91.74 L154.02,93.03 L157.20,93.03 L157.20,94.56 L160.24,94.56 L160.24,96.08 L163.29,96.08 L163.29,97.47 L165.81,97.47 L165.81,99.03 L168.59,99.03 L168.59,100.69 L170.77,100.69 L170.77,102.22 L173.23,102.22 L173.23,103.67 L175.20,103.67 L175.20,105.09 L177.56,105.09 L177.56,106.89 L179.69,106.89 L179.69,108.61 L181.59,108.61 L181.59,110.74 L184.67,110.74 L184.67,112.85 L186.57,112.85 L186.57,114.89 L189.50,114.89 L189.50,117.29 L192.27,117.29 L192.27,118.46 L194.16,118.46 L194.16,119.55 L196.62,119.55 L196.62,120.82 L199.81,120.82 L199.81,120.97 L203.00,120.97 L203.00,121.17 L205.57,121.17 L205.57,121.85 L208.44,121.85 L208.44,122.56 L211.22,122.56 L211.22,123.18 L213.40,123.18 L213.40,123.69 L215.95,123.69 L215.95,124.13 L218.57,124.13 L218.57,125.40 L220.90,125.40 L220.90,126.75 L223.84,126.75 L223.84,128.12 L226.24,128.12 L226.24,129.30 L229.08,129.30 L229.08,130.28 L230.93,130.28 L230.93,131.09 L233.33,131.09 L233.33,131.93 L235.15,131.93 L235.15,133.13 L237.85,133.13 L237.85,134.66 L240.86,134.66 L240.86,136.37 L243.40,136.37 L243.40,138.02 L245.98,138.02 L245.98,139.64 L248.63,139.64 L248.63,140.70 L250.72,140.70 L250.72,141.69 L253.04,141.69 L253.04,143.08 L255.63,143.08 L255.63,145.99 L258.32,145.99 L258.32,148.74 L260.63,148.74 L260.63,150.63 L263.08,150.63 L263.08,151.43 L265.32,151.43 L265.32,152.25 L267.87,152.25 L267.87,153.90 L270.61,153.90 L270.61,156.13 L272.84,156.13 L272.84,158.36 L275.59,158.36 L275.59,160.42 L278.57,160.42 L278.57,161.96 L281.10,161.96 L281.10,163.54 L284.27,163.54 L284.27,165.04 L286.48,165.04 L286.48,166.51 L289.56,166.51 L289.56,167.92 L291.58,167.92 L291.58,169.10 L293.87,169.10 L293.87,170.55 L296.80,170.55 L296.80,171.44 L298.61,171.44 L298.61,171.75 L301.26,171.75 L301.26,172.76 L304.27,172.76 L304.27,174.24 L307.39,174.24 L307.39,175.95 L310.13,175.95 L310.13,177.90 L312.39,177.90 L312.39,179.65 L314.63,179.65 L314.63,181.57 L317.30,181.57 L317.30,183.29 L319.15,183.29 L319.15,184.54 L320.95,184.54 L320.95,186.18 L323.98,186.18 L323.98,188.13 L326.65,188.13 L326.65,189.72 L328.64,189.72 L328.64,190.64 L331.02,190.64 L331.02,191.23 L333.19,191.23 L333.19,191.89 L336.21,191.89 L336.21,192.56 L338.38,192.56 L338.38,193.43 L341.18,193.43 L341.18,194.97 L344.01,194.97 L344.01,196.35 L346.23,196.35 L346.23,197.54 L348.35,197.54 L348.35,198.81 L350.86,198.81 L350.86,200.73 L353.20,200.73 L353.20,202.69 L355.82,202.69 L355.82,204.61 L358.05,204.61 L358.05,206.65 L360.95,206.65 L360.95,207.71 L363.32,207.71 L363.32,208.28 L365.27,208.28 L365.27,208.92 L368.15,208.92 L368.15,209.70 L371.20,209.70 L371.20,211.77 L373.94,211.77 L373.94,213.54 L376.49,213.54 L376.49,213.93 L379.50,213.93 L379.50,214.34 L382.61,214.34 L382.61,214.53 L384.38,214.53 L384.38,214.71 L386.84,214.71 L386.84,214.88 L388.63,214.88 L388.63,215.04 L390.87,215.04 L390.87,215.22 L392.98,215.22 L392.98,215.40 L395.40,215.40 L395.40,216.37 L398.14,216.37 L398.14,218.19 L401.14,218.19 L401.14,219.82 L403.27,219.82 L403.27,220.50 L405.05,220.50 L405.05,221.05 L408.25,221.05 L408.25,221.72 L411.13,221.72 L411.13,222.34 L413.69,222.34 L413.69,223.22 L415.61,223.22 L415.61,223.95 L417.44,223.95 L417.44,224.83 L420.55,224.83 L420.55,225.07 L423.07,225.07 L423.07,225.32 L426.07,225.32 L426.07,225.57 L428.96,225.57 L428.96,225.83 L431.80,225.83 L431.80,226.08 L434.72,226.08 L434.72,226.21 L436.84,226.21 L436.84,226.31 L438.96,226.31 L438.96,226.42 L441.34,226.42 L441.34,226.54 L444.21,226.54 L444.21,226.68 L447.11,226.68 L447.11,226.81 L449.96,226.81 L449.96,226.94 L452.56,226.94 L452.56,227.73 L455.00,227.73 L455.00,228.30 L457.04,228.30 L457.04,228.46 L459.76,228.46 L459.76,228.64 L462.46,228.64 L462.46,228.82 L464.97,228.82 L464.97,229.00 L467.77,229.00 L467.77,229.20 L470.94,229.20 L470.94,229.21 L474.06,229.21 L474.06,229.22 L475.98,229.22 L475.98,229.23 L478.15,229.23 L478.15,229.23 L480.79,229.23 L480.79,229.24 L483.55,229.24 L483.55,229.25 L485.71,229.25 L485.71,229.26 L488.82,229.26 L488.82,229.27 L491.24,229.27 L491.24,229.28 L494.10,229.28 L494.10,229.29 L495.94,229.29 L495.94,229.30 L498.10,229.30 L498.10,230.58 L499.35,230.58 L499.35,233.84 L502.25,233.84 L502.25,234.20 L503.40,234.20 L504.90,234.20" fill="none" stroke="#cc1230" stroke-width="1.9" stroke-linejoin="miter" stroke-linecap="butt"/>
<rect x="503.40" y="40.75" width="12" height="272.00" fill="#fff"/>
<line x1="64.50" y1="37.25" x2="64.50" y2="318.75" stroke="#111" stroke-width="1.5"/>
<line x1="63.80" y1="313.75" x2="510.00" y2="313.75" stroke="#111" stroke-width="2"/>
<line x1="59.50" y1="313.75" x2="64.50" y2="313.75" stroke="#111" stroke-width="1.3"/>
<text x="55.40" y="317.78" style="font-size:11.20px;" textLength="17.00" lengthAdjust="spacingAndGlyphs" text-anchor="end">0.0</text>
<line x1="59.50" y1="259.75" x2="64.50" y2="259.75" stroke="#111" stroke-width="1.3"/>
<text x="55.40" y="263.78" style="font-size:11.20px;" textLength="17.00" lengthAdjust="spacingAndGlyphs" text-anchor="end">0.2</text>
<line x1="59.50" y1="205.75" x2="64.50" y2="205.75" stroke="#111" stroke-width="1.3"/>
<text x="55.40" y="209.78" style="font-size:11.20px;" textLength="17.00" lengthAdjust="spacingAndGlyphs" text-anchor="end">0.4</text>
<line x1="59.50" y1="151.75" x2="64.50" y2="151.75" stroke="#111" stroke-width="1.3"/>
<text x="55.40" y="155.78" style="font-size:11.20px;" textLength="17.00" lengthAdjust="spacingAndGlyphs" text-anchor="end">0.6</text>
<line x1="59.50" y1="97.75" x2="64.50" y2="97.75" stroke="#111" stroke-width="1.3"/>
<text x="55.40" y="101.78" style="font-size:11.20px;" textLength="17.00" lengthAdjust="spacingAndGlyphs" text-anchor="end">0.8</text>
<line x1="59.50" y1="43.75" x2="64.50" y2="43.75" stroke="#111" stroke-width="1.3"/>
<text x="55.40" y="47.78" style="font-size:11.20px;" textLength="17.00" lengthAdjust="spacingAndGlyphs" text-anchor="end">1.0</text>
<line x1="64.50" y1="313.75" x2="64.50" y2="318.75" stroke="#111" stroke-width="1.3"/>
<text x="64.50" y="332.05" style="font-size:11.50px;" textLength="7.40" lengthAdjust="spacingAndGlyphs" text-anchor="middle">0</text>
<line x1="127.20" y1="313.75" x2="127.20" y2="318.75" stroke="#111" stroke-width="1.3"/>
<text x="127.20" y="332.05" style="font-size:11.50px;" textLength="14.00" lengthAdjust="spacingAndGlyphs" text-anchor="middle">12</text>
<line x1="189.90" y1="313.75" x2="189.90" y2="318.75" stroke="#111" stroke-width="1.3"/>
<text x="189.90" y="332.05" style="font-size:11.50px;" textLength="14.00" lengthAdjust="spacingAndGlyphs" text-anchor="middle">24</text>
<line x1="252.60" y1="313.75" x2="252.60" y2="318.75" stroke="#111" stroke-width="1.3"/>
<text x="252.60" y="332.05" style="font-size:11.50px;" textLength="14.00" lengthAdjust="spacingAndGlyphs" text-anchor="middle">36</text>
<line x1="315.30" y1="313.75" x2="315.30" y2="318.75" stroke="#111" stroke-width="1.3"/>
<text x="315.30" y="332.05" style="font-size:11.50px;" textLength="14.00" lengthAdjust="spacingAndGlyphs" text-anchor="middle">48</text>
<line x1="378.00" y1="313.75" x2="378.00" y2="318.75" stroke="#111" stroke-width="1.3"/>
<text x="378.00" y="332.05" style="font-size:11.50px;" textLength="14.00" lengthAdjust="spacingAndGlyphs" text-anchor="middle">60</text>
<line x1="440.70" y1="313.75" x2="440.70" y2="318.75" stroke="#111" stroke-width="1.3"/>
<text x="440.70" y="332.05" style="font-size:11.50px;" textLength="14.00" lengthAdjust="spacingAndGlyphs" text-anchor="middle">72</text>
<line x1="503.40" y1="313.75" x2="503.40" y2="318.75" stroke="#111" stroke-width="1.3"/>
<text x="503.40" y="332.05" style="font-size:11.50px;" textLength="14.00" lengthAdjust="spacingAndGlyphs" text-anchor="middle">84</text>
<text x="228.00" y="351.70" style="font-size:14.00px;" textLength="117.60" lengthAdjust="spacingAndGlyphs">Months since diagnosis</text>
<g transform="translate(27.3,236.2) rotate(-90)"><text x="0.00" y="0.00" style="font-size:13.30px;" textLength="114.20" lengthAdjust="spacingAndGlyphs">Transition probabilities</text></g>
<rect x="111.75" y="368.00" width="7" height="6.3" fill="#3aa9e0"/>
<text x="124.00" y="375.00" style="font-size:11.00px;" textLength="48.50" lengthAdjust="spacingAndGlyphs">Diagnosis</text>
<rect x="111.75" y="380.75" width="7" height="6.3" fill="#8a84c2"/>
<text x="124.00" y="387.75" style="font-size:11.00px;" textLength="23.50" lengthAdjust="spacingAndGlyphs">AML</text>
<rect x="111.75" y="393.80" width="7" height="6.3" fill="#5c2470"/>
<text x="124.00" y="400.80" style="font-size:11.00px;" textLength="101.00" lengthAdjust="spacingAndGlyphs">Allo-HCT (w/o AML)</text>
<rect x="111.75" y="406.50" width="7" height="6.3" fill="#37b74e"/>
<text x="124.00" y="413.50" style="font-size:11.00px;" textLength="106.00" lengthAdjust="spacingAndGlyphs">Allo-HCT (after AML)</text>
<rect x="287.5" y="367.30" width="6.8" height="6.3" fill="#e8a2ad"/>
<text x="298.70" y="374.30" style="font-size:11.00px;" textLength="113.50" lengthAdjust="spacingAndGlyphs">Death (from diagnosis)</text>
<rect x="287.5" y="380.10" width="6.8" height="6.3" fill="#fe9000"/>
<text x="298.70" y="387.10" style="font-size:11.00px;" textLength="89.80" lengthAdjust="spacingAndGlyphs">Death (from AML)</text>
<rect x="287.5" y="393.00" width="6.8" height="6.3" fill="#0f4f82"/>
<text x="298.70" y="400.00" style="font-size:11.00px;" textLength="111.00" lengthAdjust="spacingAndGlyphs">Death (from allo-HCT)</text>
<rect x="287.5" y="405.80" width="6.8" height="6.3" fill="#4a8d7a"/>
<text x="298.70" y="412.80" style="font-size:11.00px;" textLength="163.60" lengthAdjust="spacingAndGlyphs">Death (from allo-HCT after AML)</text>
<text x="10.90" y="459.10" style="font-size:17.20px;font-weight:bold;" textLength="11.20" lengthAdjust="spacingAndGlyphs">B</text>
<text x="210.20" y="458.40" style="font-size:13.00px;" textLength="153.50" lengthAdjust="spacingAndGlyphs">Male, higher risk CMML</text>
<rect x="64.50" y="474.50" width="440.40" height="270.00" fill="#4a8d7a"/>
<path d="M64.50,744.50 L64.50,474.50 L64.50,474.50 L67.35,474.50 L67.35,474.52 L70.56,474.52 L70.56,474.53 L74.91,474.53 L74.91,474.55 L77.98,474.55 L77.98,474.73 L82.66,474.73 L82.66,474.93 L86.01,474.93 L86.01,475.07 L88.79,475.07 L88.79,475.26 L92.53,475.26 L92.53,475.57 L95.65,475.57 L95.65,475.83 L98.44,475.83 L98.44,476.11 L101.82,476.11 L101.82,476.51 L105.60,476.51 L105.60,476.89 L108.79,476.89 L108.79,477.35 L113.45,477.35 L113.45,477.87 L116.88,477.87 L116.88,478.38 L121.21,478.38 L121.21,478.84 L124.75,478.84 L124.75,479.15 L127.72,479.15 L127.72,479.47 L131.45,479.47 L131.45,479.83 L135.74,479.83 L135.74,480.12 L139.59,480.12 L139.59,480.40 L143.78,480.40 L143.78,480.64 L146.81,480.64 L146.81,480.83 L149.87,480.83 L149.87,481.01 L152.92,481.01 L152.92,481.22 L156.77,481.22 L156.77,481.47 L161.46,481.47 L161.46,481.71 L165.07,481.71 L165.07,481.95 L169.67,481.95 L169.67,482.15 L172.67,482.15 L172.67,482.27 L175.92,482.27 L175.92,482.42 L180.19,482.42 L180.19,482.60 L184.71,482.60 L184.71,482.80 L189.24,482.80 L189.24,483.00 L192.32,483.00 L192.32,483.18 L196.29,483.18 L196.29,483.37 L199.57,483.37 L199.57,483.57 L204.01,483.57 L204.01,483.79 L208.06,483.79 L208.06,483.91 L212.36,483.91 L212.36,484.04 L216.88,484.04 L216.88,484.17 L221.85,484.17 L221.85,484.30 L225.64,484.30 L225.64,484.42 L230.63,484.42 L230.63,484.49 L234.03,484.49 L234.03,484.57 L238.77,484.57 L238.77,484.64 L241.76,484.64 L241.76,484.71 L246.12,484.71 L246.12,484.80 L250.88,484.80 L250.88,484.88 L254.88,484.88 L254.88,484.95 L258.45,484.95 L258.45,485.03 L263.05,485.03 L263.05,485.12 L267.64,485.12 L267.64,485.20 L271.99,485.20 L271.99,485.26 L275.52,485.26 L275.52,485.31 L279.43,485.31 L279.43,485.35 L282.18,485.35 L282.18,485.39 L286.12,485.39 L286.12,485.44 L289.57,485.44 L289.57,485.50 L293.84,485.50 L293.84,485.58 L296.63,485.58 L296.63,485.66 L300.39,485.66 L300.39,485.75 L303.40,485.75 L303.40,485.83 L306.93,485.83 L306.93,485.93 L311.88,485.93 L311.88,486.05 L316.34,486.05 L316.34,486.16 L320.54,486.16 L320.54,486.25 L324.11,486.25 L324.11,486.33 L327.08,486.33 L327.08,486.41 L329.90,486.41 L329.90,486.49 L333.88,486.49 L333.88,486.58 L338.85,486.58 L338.85,486.67 L343.25,486.67 L343.25,486.74 L346.48,486.74 L346.48,486.81 L351.41,486.81 L351.41,486.89 L354.67,486.89 L354.67,486.95 L357.53,486.95 L357.53,487.01 L361.42,487.01 L361.42,487.09 L365.18,487.09 L365.18,487.15 L368.08,487.15 L368.08,487.22 L372.90,487.22 L372.90,487.30 L376.31,487.30 L376.31,487.34 L379.94,487.34 L379.94,487.38 L382.78,487.38 L382.78,487.41 L385.56,487.41 L385.56,487.46 L390.45,487.46 L390.45,487.52 L395.37,487.52 L395.37,487.57 L399.52,487.57 L399.52,487.60 L402.38,487.60 L402.38,487.61 L405.46,487.61 L405.46,487.62 L408.51,487.62 L408.51,487.63 L411.29,487.63 L411.29,487.63 L415.83,487.63 L415.83,487.65 L419.60,487.65 L419.60,487.65 L422.42,487.65 L422.42,487.66 L425.77,487.66 L425.77,487.67 L429.55,487.67 L429.55,487.68 L433.47,487.68 L433.47,487.69 L437.39,487.69 L437.39,487.70 L440.44,487.70 L440.44,487.72 L444.99,487.72 L444.99,487.75 L447.96,487.75 L447.96,487.77 L451.70,487.77 L451.70,487.79 L456.09,487.79 L456.09,487.81 L459.08,487.81 L459.08,487.83 L461.88,487.83 L461.88,487.86 L466.85,487.86 L466.85,487.89 L471.16,487.89 L471.16,487.91 L474.35,487.91 L474.35,487.93 L478.58,487.93 L478.58,487.95 L481.56,487.95 L481.56,487.98 L486.17,487.98 L486.17,488.00 L489.01,488.00 L489.01,488.02 L492.00,488.02 L492.00,488.04 L495.26,488.04 L495.26,488.06 L499.41,488.06 L499.41,488.09 L503.40,488.09 L504.90,488.09 L504.90,744.50 Z" fill="#0f4f82"/>
<path d="M64.50,744.50 L64.50,474.50 L64.50,474.50 L67.40,474.50 L67.40,474.54 L70.88,474.54 L70.88,474.56 L73.64,474.56 L73.64,474.59 L77.03,474.59 L77.03,474.76 L81.47,474.76 L81.47,475.02 L85.78,475.02 L85.78,475.26 L89.59,475.26 L89.59,475.58 L94.04,475.58 L94.04,475.99 L97.80,475.99 L97.80,476.42 L102.50,476.42 L102.50,476.90 L106.62,476.90 L106.62,477.30 L109.68,477.30 L109.68,477.84 L113.71,477.84 L113.71,478.62 L117.53,478.62 L117.53,479.40 L121.49,479.40 L121.49,480.20 L124.72,480.20 L124.72,481.14 L129.03,481.14 L129.03,482.08 L132.21,482.08 L132.21,482.85 L135.63,482.85 L135.63,483.46 L138.92,483.46 L138.92,484.07 L142.27,484.07 L142.27,484.66 L145.43,484.66 L145.43,485.41 L149.87,485.41 L149.87,486.27 L154.12,486.27 L154.12,486.97 L156.94,486.97 L156.94,487.64 L160.99,487.64 L160.99,488.32 L163.91,488.32 L163.91,489.02 L168.11,489.02 L168.11,489.79 L171.78,489.79 L171.78,490.25 L175.74,490.25 L175.74,490.76 L180.20,490.76 L180.20,491.29 L184.70,491.29 L184.70,491.75 L188.99,491.75 L188.99,492.06 L192.40,492.06 L192.40,492.31 L195.36,492.31 L195.36,492.59 L199.43,492.59 L199.43,492.92 L203.38,492.92 L203.38,493.26 L208.14,493.26 L208.14,493.61 L212.87,493.61 L212.87,493.89 L216.04,493.89 L216.04,494.13 L219.72,494.13 L219.72,494.42 L224.07,494.42 L224.07,494.70 L227.76,494.70 L227.76,494.97 L232.68,494.97 L232.68,495.18 L235.46,495.18 L235.46,495.37 L239.14,495.37 L239.14,495.60 L243.79,495.60 L243.79,495.87 L248.67,495.87 L248.67,496.11 L252.56,496.11 L252.56,496.30 L255.88,496.30 L255.88,496.49 L259.96,496.49 L259.96,496.69 L263.43,496.69 L263.43,496.89 L267.74,496.89 L267.74,497.10 L271.26,497.10 L271.26,497.25 L274.45,497.25 L274.45,497.41 L278.52,497.41 L278.52,497.60 L283.00,497.60 L283.00,497.78 L286.86,497.78 L286.86,497.96 L290.94,497.96 L290.94,498.14 L294.97,498.14 L294.97,498.33 L298.90,498.33 L298.90,498.49 L301.67,498.49 L301.67,498.64 L305.26,498.64 L305.26,498.83 L309.97,498.83 L309.97,499.02 L313.87,499.02 L313.87,499.14 L318.39,499.14 L318.39,499.27 L323.28,499.27 L323.28,499.38 L326.12,499.38 L326.12,499.49 L330.51,499.49 L330.51,499.60 L334.36,499.60 L334.36,499.66 L337.11,499.66 L337.11,499.72 L340.35,499.72 L340.35,499.79 L344.21,499.79 L344.21,499.86 L348.00,499.86 L348.00,499.94 L352.71,499.94 L352.71,500.01 L356.26,500.01 L356.26,500.07 L360.78,500.07 L360.78,500.13 L364.46,500.13 L364.46,500.19 L369.33,500.19 L369.33,500.26 L374.28,500.26 L374.28,500.34 L377.39,500.34 L377.39,500.46 L381.98,500.46 L381.98,500.58 L384.98,500.58 L384.98,500.68 L388.49,500.68 L388.49,500.81 L393.23,500.81 L393.23,500.95 L396.96,500.95 L396.96,501.05 L399.75,501.05 L399.75,501.11 L402.52,501.11 L402.52,501.16 L407.49,501.16 L407.49,501.23 L412.17,501.23 L412.17,501.29 L417.09,501.29 L417.09,501.34 L420.60,501.34 L420.60,501.38 L424.04,501.38 L424.04,501.43 L428.33,501.43 L428.33,501.48 L431.19,501.48 L431.19,501.52 L435.29,501.52 L435.29,501.57 L438.39,501.57 L438.39,501.62 L441.56,501.62 L441.56,501.69 L446.01,501.69 L446.01,501.77 L449.30,501.77 L449.30,501.86 L454.27,501.86 L454.27,501.95 L458.53,501.95 L458.53,502.03 L462.63,502.03 L462.63,502.12 L466.82,502.12 L466.82,502.19 L470.11,502.19 L470.11,502.28 L475.02,502.28 L475.02,502.36 L477.86,502.36 L477.86,502.43 L482.65,502.43 L482.65,502.54 L486.60,502.54 L486.60,502.68 L490.70,502.68 L490.70,502.82 L494.68,502.82 L494.68,502.96 L498.30,502.96 L498.30,503.08 L501.42,503.08 L501.42,503.17 L503.40,503.17 L504.90,503.17 L504.90,744.50 Z" fill="#fe9000"/>
<path d="M64.50,744.50 L64.50,474.50 L64.50,474.50 L68.97,474.50 L68.97,474.96 L73.17,474.96 L73.17,475.30 L76.84,475.30 L76.84,475.89 L80.04,475.89 L80.04,476.52 L84.31,476.52 L84.31,477.12 L89.24,477.12 L89.24,477.64 L92.95,477.64 L92.95,478.57 L97.62,478.57 L97.62,479.90 L100.45,479.90 L100.45,481.85 L104.39,481.85 L104.39,484.10 L105.96,484.10 L105.96,486.71 L107.28,486.71 L107.28,489.99 L109.30,489.99 L109.30,492.41 L112.57,492.41 L112.57,495.40 L116.50,495.40 L116.50,498.13 L121.21,498.13 L121.21,500.17 L124.69,500.17 L124.69,502.14 L127.73,502.14 L127.73,504.22 L131.53,504.22 L131.53,506.66 L135.89,506.66 L135.89,509.68 L138.93,509.68 L138.93,512.28 L141.76,512.28 L141.76,514.94 L145.07,514.94 L145.07,517.78 L148.39,517.78 L148.39,520.44 L152.20,520.44 L152.20,523.15 L156.89,523.15 L156.89,526.46 L160.25,526.46 L160.25,529.16 L163.10,529.16 L163.10,531.56 L166.44,531.56 L166.44,534.59 L171.15,534.59 L171.15,536.99 L175.63,536.99 L175.63,538.61 L178.47,538.61 L178.47,539.37 L181.81,539.37 L181.81,540.16 L184.95,540.16 L184.95,540.96 L189.76,540.96 L189.76,542.05 L192.79,542.05 L192.79,543.35 L195.83,543.35 L195.83,544.69 L199.08,544.69 L199.08,546.83 L203.61,546.83 L203.61,549.67 L206.80,549.67 L206.80,551.52 L211.76,551.52 L211.76,553.04 L215.21,553.04 L215.21,554.47 L219.42,554.47 L219.42,556.11 L222.60,556.11 L222.60,557.57 L226.01,557.57 L226.01,559.21 L230.71,559.21 L230.71,560.63 L235.70,560.63 L235.70,561.84 L239.00,561.84 L239.00,562.57 L242.53,562.57 L242.53,563.20 L245.41,563.20 L245.41,563.80 L248.60,563.80 L248.60,564.50 L252.21,564.50 L252.21,565.29 L256.14,565.29 L256.14,566.12 L260.17,566.12 L260.17,566.88 L263.71,566.88 L263.71,567.54 L266.82,567.54 L266.82,568.24 L270.82,568.24 L270.82,568.68 L274.35,568.68 L274.35,569.01 L277.88,569.01 L277.88,569.42 L282.82,569.42 L282.82,569.95 L286.89,569.95 L286.89,570.36 L289.67,570.36 L289.67,570.81 L294.58,570.81 L294.58,571.08 L299.51,571.08 L299.51,571.31 L303.14,571.31 L303.14,571.64 L308.09,571.64 L308.09,572.32 L311.08,572.32 L311.08,572.84 L315.89,572.84 L315.89,573.26 L319.02,573.26 L319.02,573.67 L323.72,573.67 L323.72,574.09 L327.99,574.09 L327.99,574.52 L332.90,574.52 L332.90,575.03 L336.33,575.03 L336.33,575.57 L340.55,575.57 L340.55,576.22 L345.42,576.22 L345.42,576.78 L348.46,576.78 L348.46,577.12 L351.62,577.12 L351.62,577.50 L355.63,577.50 L355.63,577.64 L358.68,577.64 L358.68,577.75 L361.55,577.75 L361.55,577.86 L364.33,577.86 L364.33,577.98 L367.86,577.98 L367.86,578.12 L372.08,578.12 L372.08,578.28 L375.87,578.28 L375.87,578.64 L379.98,578.64 L379.98,578.99 L382.79,578.99 L382.79,579.29 L385.77,579.29 L385.77,579.68 L389.79,579.68 L389.79,580.28 L392.90,580.28 L392.90,580.78 L395.68,580.78 L395.68,581.25 L398.56,581.25 L398.56,581.87 L402.78,581.87 L402.78,582.67 L407.69,582.67 L407.69,583.16 L411.56,583.16 L411.56,583.49 L414.32,583.49 L414.32,583.78 L417.51,583.78 L417.51,584.03 L421.79,584.03 L421.79,584.25 L426.33,584.25 L426.33,584.44 L429.54,584.44 L429.54,584.61 L433.34,584.61 L433.34,584.78 L436.17,584.78 L436.17,584.95 L440.14,584.95 L440.14,585.06 L444.59,585.06 L444.59,585.13 L448.46,585.13 L448.46,585.21 L452.98,585.21 L452.98,585.28 L456.26,585.28 L456.26,585.35 L460.51,585.35 L460.51,585.43 L464.32,585.43 L464.32,585.53 L468.42,585.53 L468.42,585.62 L471.34,585.62 L471.34,585.71 L475.11,585.71 L475.11,585.81 L479.25,585.81 L479.25,585.91 L482.53,585.91 L482.53,586.01 L486.53,586.01 L486.53,586.10 L489.32,586.10 L489.32,586.18 L493.01,586.18 L493.01,586.29 L497.88,586.29 L497.88,586.41 L502.09,586.41 L502.09,586.48 L503.40,586.48 L504.90,586.48 L504.90,744.50 Z" fill="#e8a2ad"/>
<path d="M64.50,744.50 L64.50,475.20 L64.50,475.20 L66.39,475.20 L66.39,475.91 L68.47,475.91 L68.47,480.60 L71.10,480.60 L71.10,482.73 L73.16,482.73 L73.16,485.40 L76.05,485.40 L76.05,487.58 L78.66,487.58 L78.66,490.14 L81.61,490.14 L81.61,493.36 L84.25,493.36 L84.25,496.26 L87.06,496.26 L87.06,498.06 L89.93,498.06 L89.93,500.33 L92.19,500.33 L92.19,502.61 L94.09,502.61 L94.09,504.45 L97.14,504.45 L97.14,507.26 L99.07,507.26 L99.07,510.24 L101.63,510.24 L101.63,513.34 L102.72,513.34 L102.72,516.09 L103.83,516.09 L103.83,518.79 L104.88,518.79 L104.88,521.82 L105.67,521.82 L105.67,524.82 L106.68,524.82 L106.68,528.05 L108.07,528.05 L108.07,531.09 L109.14,531.09 L109.14,534.08 L110.45,534.08 L110.45,537.44 L111.73,537.44 L111.73,540.85 L113.86,540.85 L113.86,543.59 L115.88,543.59 L115.88,546.10 L117.66,546.10 L117.66,548.35 L119.74,548.35 L119.74,550.70 L121.36,550.70 L121.36,553.60 L122.64,553.60 L122.64,556.60 L124.36,556.60 L124.36,559.37 L127.37,559.37 L127.37,562.04 L129.23,562.04 L129.23,564.24 L131.90,564.24 L131.90,565.91 L134.85,565.91 L134.85,568.21 L137.02,568.21 L137.02,571.36 L138.69,571.36 L138.69,574.05 L140.26,574.05 L140.26,577.18 L141.82,577.18 L141.82,580.27 L143.35,580.27 L143.35,583.03 L145.44,583.03 L145.44,585.94 L147.41,585.94 L147.41,588.41 L149.24,588.41 L149.24,590.65 L152.12,590.65 L152.12,592.71 L154.00,592.71 L154.00,594.76 L156.89,594.76 L156.89,597.40 L158.75,597.40 L158.75,599.86 L160.82,599.86 L160.82,602.74 L162.32,602.74 L162.32,605.91 L164.48,605.91 L164.48,608.64 L166.50,608.64 L166.50,611.56 L168.98,611.56 L168.98,614.32 L170.81,614.32 L170.81,616.77 L172.83,616.77 L172.83,619.19 L175.20,619.19 L175.20,621.99 L177.98,621.99 L177.98,624.77 L180.66,624.77 L180.66,626.38 L183.11,626.38 L183.11,628.07 L186.04,628.07 L186.04,629.89 L189.16,629.89 L189.16,631.73 L192.29,631.73 L192.29,633.80 L195.47,633.80 L195.47,636.36 L198.56,636.36 L198.56,638.95 L201.74,638.95 L201.74,642.02 L204.53,642.02 L204.53,644.88 L207.29,644.88 L207.29,647.31 L209.89,647.31 L209.89,649.34 L212.21,649.34 L212.21,651.53 L215.18,651.53 L215.18,653.19 L217.49,653.19 L217.49,654.84 L220.55,654.84 L220.55,656.85 L222.95,656.85 L222.95,658.94 L224.74,658.94 L224.74,661.33 L227.72,661.33 L227.72,663.64 L230.18,663.64 L230.18,664.93 L231.94,664.93 L231.94,666.41 L234.88,666.41 L234.88,668.25 L237.78,668.25 L237.78,670.11 L240.81,670.11 L240.81,671.83 L243.24,671.83 L243.24,673.23 L245.24,673.23 L245.24,674.51 L247.31,674.51 L247.31,675.83 L249.84,675.83 L249.84,676.88 L252.57,676.88 L252.57,677.94 L255.13,677.94 L255.13,678.87 L257.24,678.87 L257.24,679.59 L259.21,679.59 L259.21,680.39 L262.37,680.39 L262.37,681.40 L265.57,681.40 L265.57,682.39 L268.68,682.39 L268.68,683.28 L271.19,683.28 L271.19,683.97 L273.07,683.97 L273.07,684.59 L275.14,684.59 L275.14,685.32 L277.70,685.32 L277.70,686.05 L280.71,686.05 L280.71,686.77 L283.48,686.77 L283.48,687.36 L285.39,687.36 L285.39,687.95 L288.47,687.95 L288.47,688.63 L291.15,688.63 L291.15,689.22 L293.53,689.22 L293.53,689.84 L296.40,689.84 L296.40,690.39 L298.75,690.39 L298.75,690.83 L301.29,690.83 L301.29,691.22 L303.09,691.22 L303.09,691.55 L304.96,691.55 L304.96,691.99 L308.05,691.99 L308.05,692.48 L310.42,692.48 L310.42,692.95 L313.32,692.95 L313.32,693.43 L315.62,693.43 L315.62,693.86 L317.94,693.86 L317.94,694.25 L319.86,694.25 L319.86,694.71 L322.91,694.71 L322.91,695.19 L325.03,695.19 L325.03,695.66 L327.90,695.66 L327.90,695.70 L329.91,695.70 L329.91,695.70 L332.11,695.70 L332.11,695.70 L334.00,695.70 L334.00,695.70 L336.76,695.70 L336.76,697.90 L339.84,697.90 L339.84,697.90 L342.51,697.90 L342.51,697.90 L345.19,697.90 L345.19,697.90 L347.31,697.90 L347.31,701.52 L350.44,701.52 L350.44,701.56 L352.37,701.56 L352.37,701.60 L354.49,701.60 L354.49,701.65 L357.06,701.65 L357.06,701.70 L359.74,701.70 L359.74,701.77 L361.92,701.77 L361.92,701.83 L364.53,701.83 L364.53,701.90 L366.45,701.90 L366.45,701.95 L368.28,701.95 L368.28,702.01 L370.66,702.01 L370.66,702.05 L373.25,702.05 L373.25,702.09 L376.28,702.09 L376.28,702.13 L378.71,702.13 L378.71,702.17 L381.82,702.17 L381.82,702.22 L384.68,702.22 L384.68,702.27 L387.84,702.27 L387.84,704.60 L390.62,704.60 L390.62,704.60 L392.99,704.60 L392.99,704.60 L395.67,704.60 L395.67,706.50 L398.42,706.50 L398.42,706.50 L400.55,706.50 L400.55,706.50 L402.56,706.50 L402.56,706.50 L404.78,706.50 L404.78,707.33 L407.32,707.33 L407.32,708.80 L409.15,708.80 L409.15,708.80 L411.43,708.80 L411.43,708.80 L413.40,708.80 L413.40,708.80 L416.51,708.80 L416.51,711.13 L418.92,711.13 L418.92,711.30 L421.49,711.30 L421.49,711.30 L423.46,711.30 L423.46,711.30 L425.86,711.30 L425.86,711.30 L429.01,711.30 L429.01,711.30 L431.97,711.30 L431.97,711.30 L435.05,711.30 L435.05,712.60 L437.04,712.60 L437.04,712.60 L440.04,712.60 L440.04,712.60 L442.96,712.60 L442.96,712.60 L445.27,712.60 L445.27,713.30 L447.53,713.30 L447.53,713.30 L450.60,713.30 L450.60,713.30 L452.79,713.30 L452.79,713.30 L454.93,713.30 L454.93,713.30 L457.62,713.30 L457.62,713.30 L460.10,713.30 L460.10,713.30 L462.49,713.30 L462.49,713.30 L464.86,713.30 L464.86,713.30 L467.65,713.30 L467.65,713.30 L470.45,713.30 L470.45,713.30 L472.86,713.30 L472.86,713.30 L475.97,713.30 L475.97,713.30 L478.12,713.30 L478.12,713.30 L480.28,713.30 L480.28,713.30 L482.60,713.30 L482.60,713.30 L484.36,713.30 L484.36,713.30 L486.85,713.30 L486.85,714.20 L489.30,714.20 L489.30,714.22 L491.44,714.22 L491.44,714.23 L493.85,714.23 L493.85,714.25 L496.30,714.25 L496.30,714.26 L498.90,714.26 L498.90,714.28 L501.44,714.28 L501.44,714.29 L503.40,714.29 L504.90,714.29 L504.90,744.50 Z" fill="#37b74e"/>
<path d="M64.50,744.50 L64.50,475.20 L64.50,475.20 L66.83,475.20 L66.83,476.07 L68.15,476.07 L68.15,479.94 L69.97,479.94 L69.97,481.65 L71.92,481.65 L71.92,483.83 L74.38,483.83 L74.38,486.12 L76.61,486.12 L76.61,488.08 L79.38,488.08 L79.38,490.37 L81.36,490.37 L81.36,492.77 L83.57,492.77 L83.57,495.10 L85.44,495.10 L85.44,496.96 L87.29,496.96 L87.29,500.04 L90.02,500.04 L90.02,503.06 L93.20,503.06 L93.20,505.82 L95.30,505.82 L95.30,508.43 L97.36,508.43 L97.36,510.96 L99.34,510.96 L99.34,513.76 L100.34,513.76 L100.34,516.35 L101.41,516.35 L101.41,519.01 L102.44,519.01 L102.44,522.35 L103.13,522.35 L103.13,525.16 L103.89,525.16 L103.89,528.06 L105.01,528.06 L105.01,531.25 L106.11,531.25 L106.11,534.38 L107.54,534.38 L107.54,537.53 L108.99,537.53 L108.99,540.29 L109.95,540.29 L109.95,542.94 L110.81,542.94 L110.81,545.60 L111.77,545.60 L111.77,548.30 L113.04,548.30 L113.04,551.28 L115.22,551.28 L115.22,554.26 L117.80,554.26 L117.80,556.54 L120.20,556.54 L120.20,560.15 L121.35,560.15 L121.35,563.41 L122.85,563.41 L122.85,567.01 L125.37,567.01 L125.37,568.63 L127.77,568.63 L127.77,570.46 L130.90,570.46 L130.90,573.19 L132.92,573.19 L132.92,575.75 L134.62,575.75 L134.62,578.57 L136.79,578.57 L136.79,581.78 L138.87,581.78 L138.87,585.19 L140.88,585.19 L140.88,588.56 L143.87,588.56 L143.87,590.95 L145.84,590.95 L145.84,594.28 L147.75,594.28 L147.75,597.12 L150.24,597.12 L150.24,600.60 L153.44,600.60 L153.44,603.59 L156.60,603.59 L156.60,606.53 L158.93,606.53 L158.93,609.45 L161.85,609.45 L161.85,612.51 L164.14,612.51 L164.14,615.88 L165.78,615.88 L165.78,618.97 L167.74,618.97 L167.74,622.00 L169.86,622.00 L169.86,624.91 L171.88,624.91 L171.88,627.28 L173.92,627.28 L173.92,628.97 L175.77,628.97 L175.77,631.14 L178.89,631.14 L178.89,633.38 L181.42,633.38 L181.42,635.17 L184.02,635.17 L184.02,637.05 L186.79,637.05 L186.79,639.01 L189.91,639.01 L189.91,640.96 L192.71,640.96 L192.71,642.80 L195.36,642.80 L195.36,644.58 L197.78,644.58 L197.78,646.40 L200.53,646.40 L200.53,648.63 L203.35,648.63 L203.35,650.90 L205.92,650.90 L205.92,653.35 L209.07,653.35 L209.07,655.84 L211.36,655.84 L211.36,658.27 L214.41,658.27 L214.41,660.25 L217.61,660.25 L217.61,661.76 L220.43,661.76 L220.43,663.39 L222.77,663.39 L222.77,665.79 L225.29,665.79 L225.29,668.16 L227.59,668.16 L227.59,670.88 L230.51,670.88 L230.51,673.88 L233.37,673.88 L233.37,675.42 L235.39,675.42 L235.39,676.78 L237.69,676.78 L237.69,678.40 L240.55,678.40 L240.55,679.93 L242.54,679.93 L242.54,681.45 L245.38,681.45 L245.38,683.16 L247.94,683.16 L247.94,684.31 L249.94,684.31 L249.94,685.03 L252.23,685.03 L252.23,685.92 L255.28,685.92 L255.28,686.75 L257.20,686.75 L257.20,687.43 L259.64,687.43 L259.64,688.29 L262.83,688.29 L262.83,689.11 L265.00,689.11 L265.00,689.88 L267.90,689.88 L267.90,690.68 L270.25,690.68 L270.25,691.51 L273.35,691.51 L273.35,692.46 L276.46,692.46 L276.46,693.27 L279.29,693.27 L279.29,693.76 L281.35,693.76 L281.35,694.28 L284.45,694.28 L284.45,694.82 L286.70,694.82 L286.70,695.33 L289.62,695.33 L289.62,695.90 L292.34,695.90 L292.34,696.43 L294.99,696.43 L294.99,696.93 L297.31,696.93 L297.31,697.40 L300.17,697.40 L300.17,697.94 L303.34,697.94 L303.34,698.49 L306.35,698.49 L306.35,699.03 L309.31,699.03 L309.31,699.48 L311.44,699.48 L311.44,699.86 L313.55,699.86 L313.55,700.35 L316.39,700.35 L316.39,700.88 L318.81,700.88 L318.81,701.43 L321.86,701.43 L321.86,701.98 L324.34,701.98 L324.34,702.54 L327.49,702.54 L327.49,702.70 L329.27,702.70 L329.27,702.70 L332.37,702.70 L332.37,702.70 L334.55,702.70 L334.55,702.70 L337.38,702.70 L337.38,704.70 L339.99,704.70 L339.99,704.70 L342.66,704.70 L342.66,704.70 L345.06,704.70 L345.06,704.70 L347.93,704.70 L347.93,708.24 L350.93,708.24 L350.93,708.32 L353.20,708.32 L353.20,708.39 L356.00,708.39 L356.00,708.46 L358.53,708.46 L358.53,708.54 L361.25,708.54 L361.25,708.61 L363.76,708.61 L363.76,708.69 L366.50,708.69 L366.50,708.76 L368.50,708.76 L368.50,708.80 L370.84,708.80 L370.84,708.80 L373.83,708.80 L373.83,708.80 L375.84,708.80 L375.84,708.80 L378.64,708.80 L378.64,708.80 L381.05,708.80 L381.05,708.80 L383.51,708.80 L383.51,708.80 L385.64,708.80 L385.64,708.80 L388.45,708.80 L388.45,710.80 L390.45,710.80 L390.45,710.80 L392.71,710.80 L392.71,710.80 L394.60,710.80 L394.60,710.80 L397.01,710.80 L397.01,713.10 L398.87,713.10 L398.87,713.10 L401.39,713.10 L401.39,713.10 L403.88,713.10 L403.88,713.10 L405.81,713.10 L405.81,715.00 L407.71,715.00 L407.71,715.00 L410.03,715.00 L410.03,715.00 L413.12,715.00 L413.12,715.00 L415.61,715.00 L415.61,716.90 L418.25,716.90 L418.25,716.90 L420.30,716.90 L420.30,716.90 L423.16,716.90 L423.16,716.90 L425.03,716.90 L425.03,716.90 L428.19,716.90 L428.19,716.90 L430.83,716.90 L430.83,716.90 L433.18,716.90 L433.18,718.76 L436.19,718.76 L436.19,718.80 L438.23,718.80 L438.23,718.80 L440.51,718.80 L440.51,718.80 L443.43,718.80 L443.43,719.06 L446.44,719.06 L446.44,719.11 L448.63,719.11 L448.63,719.12 L450.65,719.12 L450.65,719.12 L453.42,719.12 L453.42,719.13 L455.84,719.13 L455.84,719.14 L458.89,719.14 L458.89,719.15 L462.07,719.15 L462.07,719.16 L465.27,719.16 L465.27,719.17 L467.97,719.17 L467.97,719.18 L471.14,719.18 L471.14,719.19 L473.96,719.19 L473.96,719.20 L476.06,719.20 L476.06,719.21 L479.20,719.21 L479.20,719.22 L481.03,719.22 L481.03,719.23 L483.59,719.23 L483.59,719.24 L485.69,719.24 L485.69,719.24 L488.41,719.24 L488.41,719.25 L490.96,719.25 L490.96,719.26 L493.56,719.26 L493.56,719.27 L496.48,719.27 L496.48,719.28 L498.80,719.28 L498.80,719.29 L501.27,719.29 L501.27,719.30 L503.40,719.30 L504.90,719.30 L504.90,744.50 Z" fill="#5c2470"/>
<path d="M64.50,744.50 L64.50,475.20 L64.50,475.20 L66.89,475.20 L66.89,476.29 L68.26,476.29 L68.26,480.37 L70.79,480.37 L70.79,482.64 L73.27,482.64 L73.27,485.53 L76.22,485.53 L76.22,487.51 L78.30,487.51 L78.30,489.89 L81.47,489.89 L81.47,493.09 L83.98,493.09 L83.98,496.02 L85.88,496.02 L85.88,498.65 L86.85,498.65 L86.85,502.51 L88.31,502.51 L88.31,504.40 L90.52,504.40 L90.52,508.92 L92.44,508.92 L92.44,510.60 L94.49,510.60 L94.49,512.56 L96.04,512.56 L96.04,515.85 L97.13,515.85 L97.13,519.09 L98.66,519.09 L98.66,521.95 L99.90,521.95 L99.90,524.33 L100.97,524.33 L100.97,526.77 L101.88,526.77 L101.88,529.94 L102.63,529.94 L102.63,532.83 L103.39,532.83 L103.39,535.67 L104.33,535.67 L104.33,538.74 L105.23,538.74 L105.23,541.75 L106.69,541.75 L106.69,544.61 L107.77,544.61 L107.77,546.93 L108.71,546.93 L108.71,549.89 L109.57,549.89 L109.57,552.87 L110.52,552.87 L110.52,556.20 L111.29,556.20 L111.29,559.00 L112.53,559.00 L112.53,561.90 L113.65,561.90 L113.65,565.12 L116.10,565.12 L116.10,568.39 L118.88,568.39 L118.88,571.28 L120.45,571.28 L120.45,574.77 L122.01,574.77 L122.01,577.41 L124.20,577.41 L124.20,581.21 L126.10,581.21 L126.10,583.38 L129.23,583.38 L129.23,585.46 L131.28,585.46 L131.28,587.11 L134.02,587.11 L134.02,589.24 L135.99,589.24 L135.99,591.72 L138.48,591.72 L138.48,594.20 L140.44,594.20 L140.44,596.99 L142.63,596.99 L142.63,600.17 L144.91,600.17 L144.91,603.01 L146.57,603.01 L146.57,605.87 L148.61,605.87 L148.61,609.47 L151.12,609.47 L151.12,611.68 L153.03,611.68 L153.03,613.76 L155.28,613.76 L155.28,616.63 L157.39,616.63 L157.39,619.78 L160.24,619.78 L160.24,622.79 L162.93,622.79 L162.93,625.43 L164.82,625.43 L164.82,628.09 L167.30,628.09 L167.30,631.01 L169.31,631.01 L169.31,633.88 L171.38,633.88 L171.38,636.85 L174.19,636.85 L174.19,639.08 L176.79,639.08 L176.79,641.17 L179.24,641.17 L179.24,643.43 L182.38,643.43 L182.38,645.65 L184.81,645.65 L184.81,647.48 L186.93,647.48 L186.93,648.99 L189.13,648.99 L189.13,650.56 L191.43,650.56 L191.43,652.19 L193.77,652.19 L193.77,653.88 L195.93,653.88 L195.93,655.58 L198.23,655.58 L198.23,657.59 L201.23,657.59 L201.23,659.45 L203.21,659.45 L203.21,660.91 L205.15,660.91 L205.15,662.40 L207.24,662.40 L207.24,664.06 L209.25,664.06 L209.25,666.28 L212.42,666.28 L212.42,668.90 L215.38,668.90 L215.38,670.68 L218.33,670.68 L218.33,672.09 L220.10,672.09 L220.10,673.60 L222.82,673.60 L222.82,676.10 L225.63,676.10 L225.63,678.28 L227.68,678.28 L227.68,680.48 L229.82,680.48 L229.82,683.45 L232.31,683.45 L232.31,685.17 L234.65,685.17 L234.65,686.54 L237.00,686.54 L237.00,687.97 L239.51,687.97 L239.51,689.56 L242.40,689.56 L242.40,691.25 L245.27,691.25 L245.27,692.98 L248.29,692.98 L248.29,694.21 L251.22,694.21 L251.22,694.92 L253.25,694.92 L253.25,695.60 L255.91,695.60 L255.91,696.29 L258.02,696.29 L258.02,696.92 L260.57,696.92 L260.57,697.57 L262.86,697.57 L262.86,698.30 L265.95,698.30 L265.95,699.04 L268.37,699.04 L268.37,699.70 L270.82,699.70 L270.82,700.33 L273.01,700.33 L273.01,700.96 L275.50,700.96 L275.50,701.65 L278.12,701.65 L278.12,702.06 L280.05,702.06 L280.05,702.51 L283.18,702.51 L283.18,703.00 L285.68,703.00 L285.68,703.45 L287.77,703.45 L287.77,703.95 L290.74,703.95 L290.74,704.43 L292.57,704.43 L292.57,704.89 L295.34,704.89 L295.34,705.40 L297.65,705.40 L297.65,705.93 L300.76,705.93 L300.76,706.43 L302.63,706.43 L302.63,706.91 L305.68,706.91 L305.68,707.48 L308.35,707.48 L308.35,708.02 L311.13,708.02 L311.13,708.52 L313.49,708.52 L313.49,708.94 L315.72,708.94 L315.72,709.37 L318.34,709.37 L318.34,709.80 L320.52,709.80 L320.52,710.27 L323.58,710.27 L323.58,710.77 L326.09,710.77 L326.09,711.10 L328.95,711.10 L328.95,711.10 L331.78,711.10 L331.78,711.10 L333.84,711.10 L333.84,711.10 L336.29,711.10 L336.29,712.13 L338.16,712.13 L338.16,712.80 L340.07,712.80 L340.07,712.80 L341.93,712.80 L341.93,712.80 L345.10,712.80 L345.10,712.80 L347.53,712.80 L347.53,716.63 L349.86,716.63 L349.86,716.72 L352.64,716.72 L352.64,716.82 L354.72,716.82 L354.72,716.89 L356.64,716.89 L356.64,716.96 L358.50,716.96 L358.50,716.99 L360.47,716.99 L360.47,716.97 L362.65,716.97 L362.65,716.95 L364.75,716.95 L364.75,716.93 L367.16,716.93 L367.16,716.91 L369.40,716.91 L369.40,716.90 L372.44,716.90 L372.44,716.90 L374.95,716.90 L374.95,716.90 L377.97,716.90 L377.97,716.90 L380.55,716.90 L380.55,716.90 L383.12,716.90 L383.12,716.90 L386.30,716.90 L386.30,716.90 L388.15,716.90 L388.15,719.20 L391.27,719.20 L391.27,719.20 L394.29,719.20 L394.29,719.20 L396.14,719.20 L396.14,720.80 L397.96,720.80 L397.96,720.80 L400.22,720.80 L400.22,720.80 L402.39,720.80 L402.39,720.80 L405.09,720.80 L405.09,721.67 L407.33,721.67 L407.33,722.30 L410.13,722.30 L410.13,722.30 L412.62,722.30 L412.62,722.30 L414.90,722.30 L414.90,723.68 L417.01,723.68 L417.01,724.04 L419.71,724.04 L419.71,724.20 L421.74,724.20 L421.74,724.20 L424.21,724.20 L424.21,724.20 L426.27,724.20 L426.27,724.20 L428.97,724.20 L428.97,724.20 L431.70,724.20 L431.70,724.20 L434.14,724.20 L434.14,725.80 L437.02,725.80 L437.02,725.80 L439.84,725.80 L439.84,725.80 L441.68,725.80 L441.68,725.80 L444.28,725.80 L444.28,725.80 L446.76,725.80 L446.76,725.80 L449.37,725.80 L449.37,725.80 L451.81,725.80 L451.81,725.80 L454.81,725.80 L454.81,725.80 L457.63,725.80 L457.63,725.80 L460.46,725.80 L460.46,725.80 L462.34,725.80 L462.34,725.80 L464.67,725.80 L464.67,725.80 L466.75,725.80 L466.75,725.80 L469.90,725.80 L469.90,725.80 L472.46,725.80 L472.46,725.80 L474.33,725.80 L474.33,725.80 L477.13,725.80 L477.13,725.80 L478.91,725.80 L478.91,725.80 L481.26,725.80 L481.26,725.80 L483.26,725.80 L483.26,725.80 L485.24,725.80 L485.24,725.80 L488.01,725.80 L488.01,725.80 L491.14,725.80 L491.14,725.80 L493.27,725.80 L493.27,725.80 L495.39,725.80 L495.39,725.80 L498.58,725.80 L498.58,725.80 L501.68,725.80 L501.68,725.80 L503.40,725.80 L504.90,725.80 L504.90,744.50 Z" fill="#8a84c2"/>
<path d="M64.50,744.50 L64.50,474.50 L64.50,474.50 L66.27,474.50 L66.27,478.85 L68.47,478.85 L68.47,482.18 L70.45,482.18 L70.45,484.97 L71.90,484.97 L71.90,487.80 L73.40,487.80 L73.40,490.38 L74.48,490.38 L74.48,492.97 L75.47,492.97 L75.47,495.93 L76.52,495.93 L76.52,498.91 L78.28,498.91 L78.28,501.71 L79.60,501.71 L79.60,504.15 L80.60,504.15 L80.60,507.10 L81.99,507.10 L81.99,510.48 L83.04,510.48 L83.04,514.03 L84.39,514.03 L84.39,516.64 L85.70,516.64 L85.70,519.45 L87.24,519.45 L87.24,522.42 L88.40,522.42 L88.40,525.19 L89.75,525.19 L89.75,528.30 L91.00,528.30 L91.00,531.17 L92.08,531.17 L92.08,533.83 L93.15,533.83 L93.15,536.55 L94.25,536.55 L94.25,539.29 L95.34,539.29 L95.34,542.31 L96.67,542.31 L96.67,545.32 L97.74,545.32 L97.74,548.24 L98.69,548.24 L98.69,551.48 L99.62,551.48 L99.62,554.70 L101.37,554.70 L101.37,556.97 L102.79,556.97 L102.79,560.70 L103.66,560.70 L103.66,564.08 L104.92,564.08 L104.92,566.78 L106.36,566.78 L106.36,569.78 L107.92,569.78 L107.92,572.89 L109.25,572.89 L109.25,575.86 L110.54,575.86 L110.54,578.47 L111.45,578.47 L111.45,581.18 L112.43,581.18 L112.43,584.58 L113.82,584.58 L113.82,587.38 L115.16,587.38 L115.16,590.15 L116.59,590.15 L116.59,592.97 L118.22,592.97 L118.22,596.00 L120.22,596.00 L120.22,598.94 L121.69,598.94 L121.69,602.60 L123.93,602.60 L123.93,605.42 L125.86,605.42 L125.86,607.33 L127.70,607.33 L127.70,609.20 L129.62,609.20 L129.62,611.51 L131.84,611.51 L131.84,614.25 L134.55,614.25 L134.55,617.26 L137.31,617.26 L137.31,619.90 L139.39,619.90 L139.39,622.40 L141.39,622.40 L141.39,625.78 L143.16,625.78 L143.16,629.08 L145.38,629.08 L145.38,631.82 L147.61,631.82 L147.61,634.33 L149.45,634.33 L149.45,636.66 L151.38,636.66 L151.38,638.64 L153.19,638.64 L153.19,640.43 L155.73,640.43 L155.73,643.15 L158.14,643.15 L158.14,646.05 L160.96,646.05 L160.96,648.58 L163.20,648.58 L163.20,651.19 L166.18,651.19 L166.18,654.49 L169.05,654.49 L169.05,657.37 L171.23,657.37 L171.23,660.10 L174.33,660.10 L174.33,662.30 L176.96,662.30 L176.96,663.99 L178.72,663.99 L178.72,665.62 L181.56,665.62 L181.56,667.44 L184.27,667.44 L184.27,669.25 L187.06,669.25 L187.06,670.71 L189.65,670.71 L189.65,671.97 L191.98,671.97 L191.98,673.29 L194.80,673.29 L194.80,674.52 L197.48,674.52 L197.48,675.50 L199.30,675.50 L199.30,676.57 L201.67,676.57 L201.67,678.38 L204.09,678.38 L204.09,680.12 L206.26,680.12 L206.26,681.88 L208.98,681.88 L208.98,683.35 L211.10,683.35 L211.10,684.94 L214.20,684.94 L214.20,686.22 L216.88,686.22 L216.88,686.96 L218.92,686.96 L218.92,687.63 L221.19,687.63 L221.19,688.44 L223.21,688.44 L223.21,689.37 L225.69,689.37 L225.69,690.37 L228.03,690.37 L228.03,691.52 L230.14,691.52 L230.14,692.81 L232.30,692.81 L232.30,694.14 L234.53,694.14 L234.53,695.36 L237.70,695.36 L237.70,696.40 L239.67,696.40 L239.67,697.44 L242.82,697.44 L242.82,698.51 L244.94,698.51 L244.94,699.29 L247.24,699.29 L247.24,699.98 L249.13,699.98 L249.13,700.72 L251.67,700.72 L251.67,701.64 L254.72,701.64 L254.72,702.59 L257.41,702.59 L257.41,703.18 L259.18,703.18 L259.18,703.63 L261.67,703.63 L261.67,704.10 L263.60,704.10 L263.60,704.51 L265.52,704.51 L265.52,704.93 L267.52,704.93 L267.52,705.43 L270.24,705.43 L270.24,705.92 L272.31,705.92 L272.31,706.35 L275.25,706.35 L275.25,706.81 L277.69,706.81 L277.69,707.78 L279.71,707.78 L279.71,708.76 L281.53,708.76 L281.53,709.99 L284.47,709.99 L284.47,711.06 L286.97,711.06 L286.97,711.68 L289.94,711.68 L289.94,712.25 L292.00,712.25 L292.00,712.79 L294.73,712.79 L294.73,713.44 L297.73,713.44 L297.73,714.08 L300.24,714.08 L300.24,714.75 L303.44,714.75 L303.44,715.44 L306.14,715.44 L306.14,716.03 L308.41,716.03 L308.41,716.65 L311.44,716.65 L311.44,717.31 L314.07,717.31 L314.07,717.59 L316.83,717.59 L316.83,717.91 L319.91,717.91 L319.91,718.24 L322.99,718.24 L322.99,718.53 L325.45,718.53 L325.45,718.80 L328.02,718.80 L328.02,718.80 L331.14,718.80 L331.14,718.80 L334.11,718.80 L334.11,720.51 L336.22,720.51 L336.22,720.60 L339.36,720.60 L339.36,720.70 L342.23,720.70 L342.23,720.79 L344.70,720.79 L344.70,720.87 L346.70,720.87 L346.70,722.64 L349.64,722.64 L349.64,723.01 L352.36,723.01 L352.36,723.36 L355.00,723.36 L355.00,723.70 L357.49,723.70 L357.49,724.08 L360.49,724.08 L360.49,724.56 L363.05,724.56 L363.05,725.02 L365.84,725.02 L365.84,725.45 L368.10,725.45 L368.10,725.80 L369.92,725.80 L369.92,725.87 L371.94,725.87 L371.94,725.94 L373.73,725.94 L373.73,726.03 L376.54,726.03 L376.54,726.12 L378.55,726.12 L378.55,726.20 L380.41,726.20 L380.41,726.20 L383.44,726.20 L383.44,726.20 L386.11,726.20 L386.11,726.20 L387.92,726.20 L387.92,726.66 L389.73,726.66 L389.73,726.90 L392.55,726.90 L392.55,726.90 L395.69,726.90 L395.69,727.70 L398.56,727.70 L398.56,727.70 L401.37,727.70 L401.37,727.70 L403.95,727.70 L403.95,727.70 L406.01,727.70 L406.01,728.50 L409.18,728.50 L409.18,728.50 L412.33,728.50 L412.33,728.50 L415.00,728.50 L415.00,729.02 L416.83,729.02 L416.83,729.10 L419.88,729.10 L419.88,729.10 L422.47,729.10 L422.47,729.10 L425.41,729.10 L425.41,729.10 L427.63,729.10 L427.63,729.10 L429.42,729.10 L429.42,729.10 L432.51,729.10 L432.51,729.10 L434.54,729.10 L434.54,730.20 L437.61,730.20 L437.61,730.20 L440.18,730.20 L440.18,730.20 L442.91,730.20 L442.91,730.20 L445.72,730.20 L445.72,730.20 L448.69,730.20 L448.69,730.20 L450.45,730.20 L450.45,730.20 L452.31,730.20 L452.31,730.20 L454.91,730.20 L454.91,730.20 L456.92,730.20 L456.92,730.20 L459.56,730.20 L459.56,730.20 L462.56,730.20 L462.56,730.20 L465.25,730.20 L465.25,730.20 L467.31,730.20 L467.31,730.20 L470.20,730.20 L470.20,730.20 L473.26,730.20 L473.26,730.20 L475.64,730.20 L475.64,730.20 L477.78,730.20 L477.78,730.20 L480.37,730.20 L480.37,730.20 L482.55,730.20 L482.55,730.20 L484.97,730.20 L484.97,730.20 L487.35,730.20 L487.35,730.20 L489.25,730.20 L489.25,730.20 L492.06,730.20 L492.06,730.20 L494.38,730.20 L494.38,730.20 L497.05,730.20 L497.05,730.20 L499.48,730.20 L499.48,730.20 L501.85,730.20 L501.85,730.20 L503.40,730.20 L504.90,730.20 L504.90,744.50 Z" fill="#c4e5f6"/>
<path d="M64.50,475.20 L64.50,475.20 L66.39,475.20 L66.39,475.91 L68.47,475.91 L68.47,480.60 L71.10,480.60 L71.10,482.73 L73.16,482.73 L73.16,485.40 L76.05,485.40 L76.05,487.58 L78.66,487.58 L78.66,490.14 L81.61,490.14 L81.61,493.36 L84.25,493.36 L84.25,496.26 L87.06,496.26 L87.06,498.06 L89.93,498.06 L89.93,500.33 L92.19,500.33 L92.19,502.61 L94.09,502.61 L94.09,504.45 L97.14,504.45 L97.14,507.26 L99.07,507.26 L99.07,510.24 L101.63,510.24 L101.63,513.34 L102.72,513.34 L102.72,516.09 L103.83,516.09 L103.83,518.79 L104.88,518.79 L104.88,521.82 L105.67,521.82 L105.67,524.82 L106.68,524.82 L106.68,528.05 L108.07,528.05 L108.07,531.09 L109.14,531.09 L109.14,534.08 L110.45,534.08 L110.45,537.44 L111.73,537.44 L111.73,540.85 L113.86,540.85 L113.86,543.59 L115.88,543.59 L115.88,546.10 L117.66,546.10 L117.66,548.35 L119.74,548.35 L119.74,550.70 L121.36,550.70 L121.36,553.60 L122.64,553.60 L122.64,556.60 L124.36,556.60 L124.36,559.37 L127.37,559.37 L127.37,562.04 L129.23,562.04 L129.23,564.24 L131.90,564.24 L131.90,565.91 L134.85,565.91 L134.85,568.21 L137.02,568.21 L137.02,571.36 L138.69,571.36 L138.69,574.05 L140.26,574.05 L140.26,577.18 L141.82,577.18 L141.82,580.27 L143.35,580.27 L143.35,583.03 L145.44,583.03 L145.44,585.94 L147.41,585.94 L147.41,588.41 L149.24,588.41 L149.24,590.65 L152.12,590.65 L152.12,592.71 L154.00,592.71 L154.00,594.76 L156.89,594.76 L156.89,597.40 L158.75,597.40 L158.75,599.86 L160.82,599.86 L160.82,602.74 L162.32,602.74 L162.32,605.91 L164.48,605.91 L164.48,608.64 L166.50,608.64 L166.50,611.56 L168.98,611.56 L168.98,614.32 L170.81,614.32 L170.81,616.77 L172.83,616.77 L172.83,619.19 L175.20,619.19 L175.20,621.99 L177.98,621.99 L177.98,624.77 L180.66,624.77 L180.66,626.38 L183.11,626.38 L183.11,628.07 L186.04,628.07 L186.04,629.89 L189.16,629.89 L189.16,631.73 L192.29,631.73 L192.29,633.80 L195.47,633.80 L195.47,636.36 L198.56,636.36 L198.56,638.95 L201.74,638.95 L201.74,642.02 L204.53,642.02 L204.53,644.88 L207.29,644.88 L207.29,647.31 L209.89,647.31 L209.89,649.34 L212.21,649.34 L212.21,651.53 L215.18,651.53 L215.18,653.19 L217.49,653.19 L217.49,654.84 L220.55,654.84 L220.55,656.85 L222.95,656.85 L222.95,658.94 L224.74,658.94 L224.74,661.33 L227.72,661.33 L227.72,663.64 L230.18,663.64 L230.18,664.93 L231.94,664.93 L231.94,666.41 L234.88,666.41 L234.88,668.25 L237.78,668.25 L237.78,670.11 L240.81,670.11 L240.81,671.83 L243.24,671.83 L243.24,673.23 L245.24,673.23 L245.24,674.51 L247.31,674.51 L247.31,675.83 L249.84,675.83 L249.84,676.88 L252.57,676.88 L252.57,677.94 L255.13,677.94 L255.13,678.87 L257.24,678.87 L257.24,679.59 L259.21,679.59 L259.21,680.39 L262.37,680.39 L262.37,681.40 L265.57,681.40 L265.57,682.39 L268.68,682.39 L268.68,683.28 L271.19,683.28 L271.19,683.97 L273.07,683.97 L273.07,684.59 L275.14,684.59 L275.14,685.32 L277.70,685.32 L277.70,686.05 L280.71,686.05 L280.71,686.77 L283.48,686.77 L283.48,687.36 L285.39,687.36 L285.39,687.95 L288.47,687.95 L288.47,688.63 L291.15,688.63 L291.15,689.22 L293.53,689.22 L293.53,689.84 L296.40,689.84 L296.40,690.39 L298.75,690.39 L298.75,690.83 L301.29,690.83 L301.29,691.22 L303.09,691.22 L303.09,691.55 L304.96,691.55 L304.96,691.99 L308.05,691.99 L308.05,692.48 L310.42,692.48 L310.42,692.95 L313.32,692.95 L313.32,693.43 L315.62,693.43 L315.62,693.86 L317.94,693.86 L317.94,694.25 L319.86,694.25 L319.86,694.71 L322.91,694.71 L322.91,695.19 L325.03,695.19 L325.03,695.66 L327.90,695.66 L327.90,695.70 L329.91,695.70 L329.91,695.70 L332.11,695.70 L332.11,695.70 L334.00,695.70 L334.00,695.70 L336.76,695.70 L336.76,697.90 L339.84,697.90 L339.84,697.90 L342.51,697.90 L342.51,697.90 L345.19,697.90 L345.19,697.90 L347.31,697.90 L347.31,701.52 L350.44,701.52 L350.44,701.56 L352.37,701.56 L352.37,701.60 L354.49,701.60 L354.49,701.65 L357.06,701.65 L357.06,701.70 L359.74,701.70 L359.74,701.77 L361.92,701.77 L361.92,701.83 L364.53,701.83 L364.53,701.90 L366.45,701.90 L366.45,701.95 L368.28,701.95 L368.28,702.01 L370.66,702.01 L370.66,702.05 L373.25,702.05 L373.25,702.09 L376.28,702.09 L376.28,702.13 L378.71,702.13 L378.71,702.17 L381.82,702.17 L381.82,702.22 L384.68,702.22 L384.68,702.27 L387.84,702.27 L387.84,704.60 L390.62,704.60 L390.62,704.60 L392.99,704.60 L392.99,704.60 L395.67,704.60 L395.67,706.50 L398.42,706.50 L398.42,706.50 L400.55,706.50 L400.55,706.50 L402.56,706.50 L402.56,706.50 L404.78,706.50 L404.78,707.33 L407.32,707.33 L407.32,708.80 L409.15,708.80 L409.15,708.80 L411.43,708.80 L411.43,708.80 L413.40,708.80 L413.40,708.80 L416.51,708.80 L416.51,711.13 L418.92,711.13 L418.92,711.30 L421.49,711.30 L421.49,711.30 L423.46,711.30 L423.46,711.30 L425.86,711.30 L425.86,711.30 L429.01,711.30 L429.01,711.30 L431.97,711.30 L431.97,711.30 L435.05,711.30 L435.05,712.60 L437.04,712.60 L437.04,712.60 L440.04,712.60 L440.04,712.60 L442.96,712.60 L442.96,712.60 L445.27,712.60 L445.27,713.30 L447.53,713.30 L447.53,713.30 L450.60,713.30 L450.60,713.30 L452.79,713.30 L452.79,713.30 L454.93,713.30 L454.93,713.30 L457.62,713.30 L457.62,713.30 L460.10,713.30 L460.10,713.30 L462.49,713.30 L462.49,713.30 L464.86,713.30 L464.86,713.30 L467.65,713.30 L467.65,713.30 L470.45,713.30 L470.45,713.30 L472.86,713.30 L472.86,713.30 L475.97,713.30 L475.97,713.30 L478.12,713.30 L478.12,713.30 L480.28,713.30 L480.28,713.30 L482.60,713.30 L482.60,713.30 L484.36,713.30 L484.36,713.30 L486.85,713.30 L486.85,714.20 L489.30,714.20 L489.30,714.22 L491.44,714.22 L491.44,714.23 L493.85,714.23 L493.85,714.25 L496.30,714.25 L496.30,714.26 L498.90,714.26 L498.90,714.28 L501.44,714.28 L501.44,714.29 L503.40,714.29 L504.90,714.29" fill="none" stroke="#cc1230" stroke-width="1.9" stroke-linejoin="miter" stroke-linecap="butt"/>
<rect x="503.40" y="471.50" width="12" height="272.00" fill="#fff"/>
<line x1="64.50" y1="468.00" x2="64.50" y2="749.50" stroke="#111" stroke-width="1.5"/>
<line x1="63.80" y1="744.50" x2="510.00" y2="744.50" stroke="#111" stroke-width="2"/>
<line x1="59.50" y1="744.50" x2="64.50" y2="744.50" stroke="#111" stroke-width="1.3"/>
<text x="53.10" y="748.82" style="font-size:12.00px;" textLength="16.80" lengthAdjust="spacingAndGlyphs" text-anchor="end">0.0</text>
<line x1="59.50" y1="690.50" x2="64.50" y2="690.50" stroke="#111" stroke-width="1.3"/>
<text x="53.10" y="694.82" style="font-size:12.00px;" textLength="16.80" lengthAdjust="spacingAndGlyphs" text-anchor="end">0.2</text>
<line x1="59.50" y1="636.50" x2="64.50" y2="636.50" stroke="#111" stroke-width="1.3"/>
<text x="53.10" y="640.82" style="font-size:12.00px;" textLength="16.80" lengthAdjust="spacingAndGlyphs" text-anchor="end">0.4</text>
<line x1="59.50" y1="582.50" x2="64.50" y2="582.50" stroke="#111" stroke-width="1.3"/>
<text x="53.10" y="586.82" style="font-size:12.00px;" textLength="16.80" lengthAdjust="spacingAndGlyphs" text-anchor="end">0.6</text>
<line x1="59.50" y1="528.50" x2="64.50" y2="528.50" stroke="#111" stroke-width="1.3"/>
<text x="53.10" y="532.82" style="font-size:12.00px;" textLength="16.80" lengthAdjust="spacingAndGlyphs" text-anchor="end">0.8</text>
<line x1="59.50" y1="474.50" x2="64.50" y2="474.50" stroke="#111" stroke-width="1.3"/>
<text x="53.10" y="478.82" style="font-size:12.00px;" textLength="16.80" lengthAdjust="spacingAndGlyphs" text-anchor="end">1.0</text>
<line x1="64.50" y1="744.50" x2="64.50" y2="749.50" stroke="#111" stroke-width="1.3"/>
<text x="64.50" y="762.80" style="font-size:11.50px;" textLength="7.40" lengthAdjust="spacingAndGlyphs" text-anchor="middle">0</text>
<line x1="127.20" y1="744.50" x2="127.20" y2="749.50" stroke="#111" stroke-width="1.3"/>
<text x="127.20" y="762.80" style="font-size:11.50px;" textLength="14.00" lengthAdjust="spacingAndGlyphs" text-anchor="middle">12</text>
<line x1="189.90" y1="744.50" x2="189.90" y2="749.50" stroke="#111" stroke-width="1.3"/>
<text x="189.90" y="762.80" style="font-size:11.50px;" textLength="14.00" lengthAdjust="spacingAndGlyphs" text-anchor="middle">24</text>
<line x1="252.60" y1="744.50" x2="252.60" y2="749.50" stroke="#111" stroke-width="1.3"/>
<text x="252.60" y="762.80" style="font-size:11.50px;" textLength="14.00" lengthAdjust="spacingAndGlyphs" text-anchor="middle">36</text>
<line x1="315.30" y1="744.50" x2="315.30" y2="749.50" stroke="#111" stroke-width="1.3"/>
<text x="315.30" y="762.80" style="font-size:11.50px;" textLength="14.00" lengthAdjust="spacingAndGlyphs" text-anchor="middle">48</text>
<line x1="378.00" y1="744.50" x2="378.00" y2="749.50" stroke="#111" stroke-width="1.3"/>
<text x="378.00" y="762.80" style="font-size:11.50px;" textLength="14.00" lengthAdjust="spacingAndGlyphs" text-anchor="middle">60</text>
<line x1="440.70" y1="744.50" x2="440.70" y2="749.50" stroke="#111" stroke-width="1.3"/>
<text x="440.70" y="762.80" style="font-size:11.50px;" textLength="14.00" lengthAdjust="spacingAndGlyphs" text-anchor="middle">72</text>
<line x1="503.40" y1="744.50" x2="503.40" y2="749.50" stroke="#111" stroke-width="1.3"/>
<text x="503.40" y="762.80" style="font-size:11.50px;" textLength="14.00" lengthAdjust="spacingAndGlyphs" text-anchor="middle">84</text>
<text x="225.30" y="782.50" style="font-size:14.00px;" textLength="117.60" lengthAdjust="spacingAndGlyphs">Months since diagnosis</text>
<g transform="translate(27.3,663.9) rotate(-90)"><text x="0.00" y="0.00" style="font-size:13.30px;" textLength="114.80" lengthAdjust="spacingAndGlyphs">Transition probabilities</text></g>
<rect x="111.75" y="800.50" width="7" height="6.3" fill="#c4e5f6"/>
<text x="124.00" y="807.50" style="font-size:11.00px;" textLength="48.50" lengthAdjust="spacingAndGlyphs">Diagnosis</text>
<rect x="111.75" y="813.50" width="7" height="6.3" fill="#8a84c2"/>
<text x="124.00" y="820.50" style="font-size:11.00px;" textLength="23.50" lengthAdjust="spacingAndGlyphs">AML</text>
<rect x="111.75" y="826.50" width="7" height="6.3" fill="#5c2470"/>
<text x="124.00" y="833.50" style="font-size:11.00px;" textLength="101.00" lengthAdjust="spacingAndGlyphs">Allo-HCT (w/o AML)</text>
<rect x="111.75" y="839.00" width="7" height="6.3" fill="#37b74e"/>
<text x="124.00" y="846.00" style="font-size:11.00px;" textLength="106.00" lengthAdjust="spacingAndGlyphs">Allo-HCT (after AML)</text>
<rect x="287.5" y="801.30" width="6.8" height="6.3" fill="#e8a2ad"/>
<text x="298.70" y="808.30" style="font-size:11.00px;" textLength="113.50" lengthAdjust="spacingAndGlyphs">Death (from diagnosis)</text>
<rect x="287.5" y="814.20" width="6.8" height="6.3" fill="#fe9000"/>
<text x="298.70" y="821.20" style="font-size:11.00px;" textLength="89.80" lengthAdjust="spacingAndGlyphs">Death (from AML)</text>
<rect x="287.5" y="827.00" width="6.8" height="6.3" fill="#0f4f82"/>
<text x="298.70" y="834.00" style="font-size:11.00px;" textLength="111.00" lengthAdjust="spacingAndGlyphs">Death (from allo-HCT)</text>
<rect x="287.5" y="839.70" width="6.8" height="6.3" fill="#4a8d7a"/>
<text x="298.70" y="846.70" style="font-size:11.00px;" textLength="163.60" lengthAdjust="spacingAndGlyphs">Death (from allo-HCT after AML)</text>
</svg>
</body></html>
